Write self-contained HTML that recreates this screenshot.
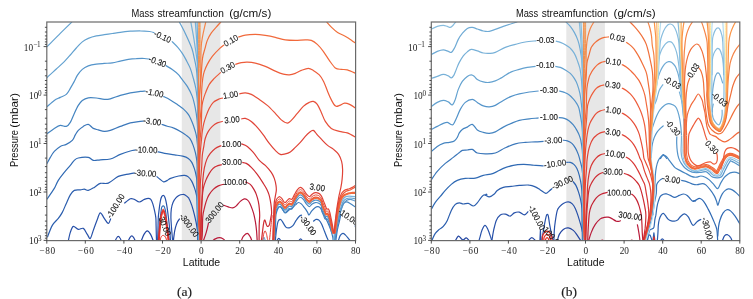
<!DOCTYPE html>
<html lang="en"><head><meta charset="utf-8"><title>Mass streamfunction</title>
<style>html,body{margin:0;padding:0;background:#fff}svg{display:block}</style>
</head><body>
<svg width="753" height="299" viewBox="0 0 753 299">
<defs><linearGradient id="gO" gradientUnits="userSpaceOnUse" x1="0" y1="21" x2="0" y2="241"><stop offset="0" stop-color="#f19b58"/><stop offset="0.22" stop-color="#ee8a4c"/><stop offset="0.45" stop-color="#e56a3e"/><stop offset="1" stop-color="#dc4a34"/></linearGradient></defs>
<rect width="753" height="299" fill="#fff"/>
<clipPath id="cpa"><rect x="46.8" y="22.0" width="308.8" height="218.6"/></clipPath>
<rect x="181.8" y="22.0" width="38.6" height="218.6" fill="#e7e7e7"/>
<g clip-path="url(#cpa)"><g fill="none" stroke-linecap="butt" stroke-linejoin="round" transform="translate(0.3 0.4)">
<path d="M173.1 240.5C173.2 239.4 173.6 235.9 173.9 233.7C174.2 231.4 174.7 228.9 175.2 227.0C175.7 225.1 176.2 223.4 176.9 222.0C177.6 220.6 179.0 218.9 179.4 218.3" stroke="#2346a2" stroke-width="1.2"/>
<path d="M115.0 240.5C115.2 240.0 115.8 238.3 116.3 237.6C116.8 236.8 117.5 236.0 118.0 236.0C118.5 236.0 119.2 236.8 119.7 237.6C120.2 238.3 120.8 240.0 121.0 240.5" stroke="#2346a2" stroke-width="1.2"/>
<path d="M128.0 240.5C128.3 240.0 129.0 238.1 129.6 237.2C130.2 236.4 130.9 235.5 131.5 235.5C132.1 235.5 132.8 236.4 133.4 237.2C134.0 238.1 134.7 240.0 135.0 240.5" stroke="#2346a2" stroke-width="1.2"/>
<path d="M141.0 240.5C141.4 239.4 142.7 235.7 143.7 234.0C144.7 232.3 145.9 230.5 147.0 230.5C148.1 230.5 149.3 232.3 150.3 234.0C151.3 235.7 152.6 239.4 153.0 240.5" stroke="#2346a2" stroke-width="1.2"/>
<path d="M68.0 240.5C68.3 239.1 69.2 234.4 70.0 232.0C70.8 229.6 71.7 226.5 73.0 226.0C74.3 225.5 76.3 228.7 78.0 229.0C79.7 229.3 81.5 227.2 83.0 228.0C84.5 228.8 85.8 232.3 87.0 234.0C88.2 235.7 89.0 238.7 90.0 238.0C91.0 237.3 91.8 233.2 93.0 230.0C94.2 226.8 95.8 221.9 97.0 219.0C98.2 216.1 98.8 212.6 100.0 212.4C101.2 212.2 102.7 216.2 104.0 218.0C105.3 219.8 106.9 223.0 108.0 223.0C109.1 223.0 110.1 218.8 110.5 218.0" stroke="#2751a9" stroke-width="1.2"/>
<path d="M124.0 203.0C125.0 202.2 128.3 199.1 130.0 198.4C131.7 197.7 132.5 198.5 134.0 199.0C135.5 199.5 137.3 201.6 139.0 201.6C140.7 201.6 142.5 199.6 144.0 199.0C145.5 198.4 146.9 197.9 148.0 197.9C149.1 197.9 149.7 198.0 150.5 199.0C151.3 200.0 152.0 201.8 152.6 203.7C153.2 205.6 153.8 208.2 154.3 210.4C154.8 212.6 155.2 214.5 155.5 217.0C155.8 219.5 155.7 221.5 155.8 225.4C155.9 229.3 156.1 238.0 156.2 240.5" stroke="#2751a9" stroke-width="1.2"/>
<path d="M157.3 240.5C157.4 238.4 157.6 231.9 157.7 228.0C157.8 224.1 157.8 220.1 158.0 216.9C158.2 213.7 158.6 211.4 158.9 208.7C159.2 205.9 159.7 202.5 160.1 200.4C160.5 198.3 160.9 197.1 161.4 196.2C161.9 195.3 162.4 194.9 162.9 194.9C163.4 194.9 163.9 195.3 164.3 196.2C164.8 197.1 165.2 198.6 165.6 200.4C166.0 202.2 166.4 204.2 166.8 207.0C167.2 209.8 167.7 213.4 168.1 216.9C168.5 220.4 169.0 224.1 169.3 228.0C169.7 231.9 170.0 238.4 170.2 240.5" stroke="#2751a9" stroke-width="1.2"/>
<path d="M172.3 240.5C172.2 238.7 171.7 233.5 171.4 229.6C171.1 225.7 170.7 220.5 170.6 217.0C170.5 213.5 170.7 211.2 171.0 208.7C171.3 206.2 171.9 203.9 172.7 202.0C173.5 200.1 174.5 198.6 175.6 197.4C176.7 196.2 177.9 195.5 179.0 194.9C180.1 194.3 181.3 194.2 182.3 194.1C183.3 194.0 183.8 193.9 184.8 194.5C185.8 195.1 187.4 196.1 188.5 197.8C189.6 199.6 190.6 202.3 191.5 205.0C192.4 207.7 193.3 211.2 194.0 214.0C194.7 216.8 195.2 219.2 195.8 222.0C196.4 224.8 196.8 227.9 197.3 231.0C197.8 234.1 198.5 238.9 198.7 240.5" stroke="#2751a9" stroke-width="1.2"/>
<path d="M276.4 240.5C276.8 240.1 277.8 238.0 278.5 238.0C279.2 238.0 280.2 240.1 280.6 240.5" stroke="#2751a9" stroke-width="1.2"/>
<path d="M298.2 240.5C298.6 240.2 299.6 238.5 300.3 238.5C301.0 238.5 302.0 240.2 302.4 240.5" stroke="#2751a9" stroke-width="1.2"/>
<path d="M47.0 237.0C47.8 235.0 50.2 228.2 52.0 225.0C53.8 221.8 56.3 220.2 58.0 218.0C59.7 215.8 60.7 214.5 62.0 212.0C63.3 209.5 64.7 205.9 66.0 203.0C67.3 200.1 68.7 196.7 70.0 194.5C71.3 192.3 72.3 190.8 74.0 190.0C75.7 189.2 78.3 189.7 80.0 189.5C81.7 189.3 82.7 188.6 84.0 188.7C85.3 188.8 86.3 190.3 88.0 190.0C89.7 189.7 92.0 188.2 94.0 187.0C96.0 185.8 97.7 183.7 100.0 183.0C102.3 182.3 105.0 183.9 108.0 182.7C111.0 181.5 115.0 177.4 118.0 176.0C121.0 174.6 123.3 174.6 126.0 174.0C128.7 173.4 132.9 172.7 134.3 172.4" stroke="#2b5eae" stroke-width="1.2"/>
<path d="M156.3 176.0C156.9 176.5 158.8 178.1 160.0 179.0C161.2 179.9 162.1 181.2 163.3 181.4C164.5 181.6 165.8 180.6 167.0 180.0C168.2 179.4 168.4 178.7 170.3 178.0C172.2 177.3 176.1 176.1 178.4 175.6C180.8 175.1 182.8 174.8 184.4 175.0C186.0 175.2 186.8 175.5 188.0 176.5C189.2 177.5 190.5 179.2 191.5 181.0C192.5 182.8 193.2 184.8 194.0 187.0C194.8 189.2 195.5 191.8 196.0 194.0C196.5 196.2 196.8 196.0 197.0 200.0C197.2 204.0 197.0 211.2 197.1 218.0C197.2 224.8 197.3 236.8 197.4 240.5" stroke="#2b5eae" stroke-width="1.2"/>
<path d="M275.0 240.5C275.2 238.4 275.9 231.2 276.4 228.0C276.9 224.8 277.2 222.5 277.8 221.0C278.4 219.5 279.3 219.0 280.0 219.0C280.7 219.0 281.1 219.7 282.0 221.0C282.9 222.3 284.4 225.6 285.6 226.7C286.8 227.8 287.8 227.6 289.0 227.4C290.2 227.2 291.4 226.6 292.6 225.3C293.8 224.0 294.8 221.3 296.0 219.7C297.2 218.0 298.7 216.2 299.6 215.4C300.6 214.6 301.4 214.8 301.7 214.7" stroke="#2b5eae" stroke-width="1.2"/>
<path d="M313.0 221.0C313.5 220.7 314.9 219.2 315.8 219.0C316.7 218.8 317.7 218.9 318.6 219.7C319.5 220.5 320.5 222.0 321.4 223.9C322.3 225.8 323.3 228.6 324.2 230.9C325.1 233.2 326.3 236.3 327.0 237.9C327.7 239.5 328.0 240.1 328.2 240.5" stroke="#2b5eae" stroke-width="1.2"/>
<path d="M273.0 240.5C273.1 239.6 273.3 237.6 273.6 235.0C273.9 232.4 274.4 228.3 274.6 225.0C274.8 221.7 274.9 216.7 275.0 215.0" stroke="#2b5eae" stroke-width="1.2"/>
<path d="M338.0 240.5C338.3 239.6 339.2 236.2 340.0 235.0C340.8 233.8 341.8 233.1 342.6 233.0C343.4 232.9 344.1 233.7 345.0 234.5C345.9 235.3 347.2 237.0 348.0 238.0C348.8 239.0 349.7 240.1 350.0 240.5" stroke="#2b5eae" stroke-width="1.2"/>
<path d="M354.8 225.0L355.5 228.0" stroke="#2b5eae" stroke-width="1.2"/>
<path d="M46.5 199.0C47.1 198.2 48.8 195.8 50.0 194.0C51.2 192.2 52.7 190.3 54.0 188.0C55.3 185.7 56.3 182.7 58.0 180.0C59.7 177.3 62.0 174.5 64.0 172.0C66.0 169.5 68.3 167.0 70.0 165.0C71.7 163.0 72.7 161.2 74.0 160.0C75.3 158.8 75.7 158.1 78.0 157.6C80.3 157.1 85.5 156.6 88.0 157.0C90.5 157.4 91.0 159.6 93.0 160.0C95.0 160.4 97.2 159.6 100.0 159.4C102.8 159.2 106.7 159.5 110.0 158.6C113.3 157.7 116.7 155.3 120.0 154.0C123.3 152.7 127.5 151.3 130.0 150.6C132.6 149.9 134.4 149.8 135.3 149.6" stroke="#306ab4" stroke-width="1.2"/>
<path d="M157.3 151.4C158.5 151.7 161.5 152.5 164.3 153.0C167.1 153.5 171.3 153.9 174.3 154.4C177.3 154.9 180.1 155.2 182.4 155.8C184.7 156.4 186.5 157.0 188.0 158.0C189.5 159.0 190.5 160.3 191.5 162.0C192.5 163.7 193.2 165.7 194.0 168.0C194.8 170.3 195.5 173.3 196.0 176.0C196.5 178.7 196.8 180.3 197.0 184.0C197.2 187.7 197.4 192.7 197.5 198.0C197.6 203.3 197.4 208.9 197.4 216.0C197.4 223.1 197.6 236.4 197.7 240.5" stroke="#306ab4" stroke-width="1.2"/>
<path d="M158.2 240.5C158.4 238.1 158.8 230.6 159.2 226.0C159.6 221.4 160.1 216.2 160.5 213.0C160.9 209.8 161.0 208.3 161.4 207.0C161.8 205.7 162.4 205.4 162.9 205.4C163.4 205.4 163.9 205.7 164.3 207.0C164.8 208.3 165.2 210.2 165.6 213.0C166.0 215.8 166.2 219.4 166.8 224.0C167.4 228.6 168.6 237.8 169.0 240.5" stroke="#306ab4" stroke-width="1.2"/>
<path d="M46.5 163.5C47.1 162.4 48.8 159.1 50.0 157.0C51.2 154.9 52.3 152.8 54.0 151.0C55.7 149.2 58.0 147.2 60.0 146.0C62.0 144.8 64.0 145.0 66.0 144.0C68.0 143.0 70.5 141.6 72.0 140.0C73.5 138.4 74.0 136.2 75.0 134.5C76.0 132.8 76.7 131.4 78.0 130.0C79.3 128.6 81.3 127.0 83.0 126.0C84.7 125.0 86.3 123.7 88.0 124.0C89.7 124.3 91.3 127.1 93.0 128.0C94.7 128.9 96.2 129.0 98.0 129.5C99.8 130.0 102.0 130.9 104.0 131.0C106.0 131.1 107.3 130.8 110.0 130.0C112.7 129.2 116.7 127.2 120.0 126.0C123.3 124.8 126.7 123.3 130.0 122.5C133.3 121.7 137.8 121.3 140.0 121.0C142.2 120.7 142.8 120.8 143.3 120.7" stroke="#3b77ba" stroke-width="1.2"/>
<path d="M161.3 123.9C162.2 124.2 165.1 125.2 167.0 125.8C168.9 126.4 170.7 126.5 173.0 127.5C175.3 128.4 178.8 130.2 181.0 131.5C183.2 132.8 184.6 133.9 186.0 135.0C187.4 136.1 188.4 136.5 189.5 138.0C190.6 139.5 191.6 141.7 192.5 144.0C193.4 146.3 194.3 149.3 195.0 152.0C195.7 154.7 196.1 157.3 196.5 160.0C196.9 162.7 197.1 163.7 197.2 168.0C197.3 172.3 196.8 179.3 196.8 186.0C196.8 192.7 196.9 200.7 197.0 208.0C197.2 215.3 197.5 224.6 197.6 230.0C197.8 235.4 197.9 238.8 197.9 240.5" stroke="#3b77ba" stroke-width="1.2"/>
<path d="M275.0 235.0C275.1 232.8 275.2 225.5 275.3 222.0C275.4 218.5 275.3 216.4 275.7 214.0C276.1 211.6 277.1 209.0 277.8 207.7C278.5 206.4 279.3 206.2 280.0 206.3C280.7 206.4 281.2 207.4 282.0 208.4C282.8 209.4 283.8 212.4 284.9 212.6C286.0 212.8 287.2 210.6 288.4 209.8C289.6 209.0 290.7 208.6 291.9 207.7C293.1 206.8 294.3 205.1 295.4 204.2C296.4 203.3 297.3 202.2 298.2 202.1C299.1 202.0 299.9 202.6 301.0 203.5C302.1 204.4 303.4 206.3 304.5 207.7C305.6 209.1 306.6 210.9 307.3 212.0C308.0 213.1 308.0 214.8 308.7 214.5C309.4 214.2 310.4 211.8 311.5 210.5C312.6 209.2 313.9 207.7 315.0 207.0C316.1 206.3 316.9 206.1 317.9 206.3C318.8 206.5 319.8 207.1 320.7 208.4C321.6 209.7 322.4 211.9 323.5 214.0C324.6 216.1 325.8 218.4 327.0 221.0C328.2 223.6 329.6 226.9 330.5 229.5C331.4 232.1 332.0 234.7 332.4 236.5C332.8 238.3 332.8 239.8 332.9 240.5" stroke="#3b77ba" stroke-width="1.2"/>
<path d="M335.5 240.5C335.8 238.8 336.4 233.2 337.0 230.0C337.6 226.8 338.4 224.0 339.0 221.4C339.6 218.8 340.2 215.7 340.5 214.5" stroke="#3b77ba" stroke-width="1.2"/>
<path d="M46.5 133.5C47.8 132.6 51.8 129.4 54.0 128.0C56.2 126.6 58.0 125.3 60.0 125.0C62.0 124.7 64.3 126.5 66.0 126.0C67.7 125.5 68.7 124.2 70.0 122.0C71.3 119.8 72.7 115.8 74.0 113.0C75.3 110.2 76.7 107.2 78.0 105.0C79.3 102.8 80.3 101.3 82.0 100.0C83.7 98.7 85.7 97.8 88.0 97.4C90.3 97.0 93.3 97.3 96.0 97.6C98.7 97.9 101.7 98.9 104.0 99.0C106.3 99.1 107.3 99.1 110.0 98.4C112.7 97.7 116.7 96.0 120.0 95.0C123.3 94.0 126.7 93.1 130.0 92.4C133.3 91.7 137.4 91.3 140.0 91.0C142.6 90.7 144.4 90.7 145.3 90.6" stroke="#4585c1" stroke-width="1.2"/>
<path d="M163.0 96.0C164.2 96.6 167.4 98.0 170.0 99.5C172.6 101.0 176.1 103.5 178.3 105.0C180.5 106.5 181.4 107.0 183.0 108.5C184.6 110.0 186.5 111.8 188.0 114.0C189.5 116.2 190.8 119.2 192.0 122.0C193.2 124.8 194.2 128.3 195.0 131.0C195.8 133.7 196.1 134.8 196.5 138.0C196.9 141.2 197.3 145.0 197.4 150.0C197.5 155.0 197.1 161.3 197.0 168.0C197.0 174.7 196.8 182.7 196.9 190.0C196.9 197.3 197.1 204.7 197.3 212.0C197.5 219.3 197.8 229.2 198.0 234.0C198.1 238.8 198.1 239.4 198.2 240.5" stroke="#4585c1" stroke-width="1.2"/>
<path d="M274.0 240.5C274.1 238.4 274.2 232.3 274.4 228.0C274.6 223.7 274.8 217.8 275.1 214.8C275.3 211.8 275.5 211.1 275.9 209.9C276.3 208.8 276.9 208.4 277.3 207.9C277.6 207.4 277.6 207.2 278.0 206.9C278.4 206.6 278.9 206.0 279.5 206.2C280.1 206.4 280.7 206.9 281.5 207.9C282.3 208.9 283.6 211.9 284.5 212.2C285.4 212.5 286.2 210.6 287.0 209.9C287.8 209.2 288.2 208.4 289.0 208.2C289.8 208.0 290.8 209.3 291.6 208.7C292.4 208.1 293.1 206.0 294.0 204.4C294.9 202.8 296.0 200.7 297.0 199.4C298.0 198.2 299.0 197.0 300.0 196.9C301.0 196.8 302.0 197.8 303.0 198.9C304.0 200.0 305.0 202.2 306.0 203.4C307.0 204.6 308.1 206.1 309.0 206.2C309.9 206.3 310.5 204.6 311.5 203.9C312.5 203.2 313.8 202.4 315.0 202.2C316.2 202.0 317.5 202.4 318.5 202.9C319.5 203.4 320.5 204.2 321.0 205.4C321.5 206.6 320.8 208.3 321.2 209.9C321.6 211.5 322.6 213.5 323.2 214.9C323.8 216.3 324.2 218.0 324.7 218.6C325.2 219.2 325.7 218.3 326.2 218.4C326.7 218.5 327.2 218.3 327.7 219.4C328.3 220.5 328.9 223.0 329.4 224.9C330.0 226.9 330.6 229.6 331.0 231.0C331.4 232.3 331.8 232.7 331.9 233.0" stroke="#4585c1" stroke-width="1.1"/>
<path d="M334.6 240.5C334.9 238.8 335.7 233.2 336.3 230.0C336.9 226.8 337.3 224.2 338.0 221.0C338.7 217.8 339.8 213.3 340.5 210.5C341.2 207.7 341.8 205.7 342.4 204.3C343.0 202.9 343.5 202.7 344.2 202.2C344.9 201.7 345.5 201.4 346.3 201.5C347.1 201.6 348.0 202.0 349.0 202.6C350.0 203.2 351.3 204.1 352.4 204.8C353.5 205.5 355.0 206.6 355.5 207.0" stroke="#4585c1" stroke-width="1.2"/>
<path d="M46.5 106.5C47.8 105.4 51.8 101.6 54.0 100.0C56.2 98.4 58.0 98.0 60.0 97.0C62.0 96.0 64.3 95.5 66.0 94.0C67.7 92.5 68.7 90.2 70.0 88.0C71.3 85.8 72.8 83.2 74.0 81.0C75.2 78.8 75.7 77.0 77.0 75.0C78.3 73.0 80.2 70.6 82.0 69.0C83.8 67.4 85.7 66.4 88.0 65.5C90.3 64.6 93.3 64.1 96.0 63.7C98.7 63.3 101.3 63.2 104.0 63.0C106.7 62.8 109.3 62.9 112.0 62.5C114.7 62.1 117.3 61.3 120.0 60.7C122.7 60.1 125.3 59.4 128.0 59.0C130.7 58.6 133.3 58.4 136.0 58.3C138.7 58.1 141.8 58.0 144.0 58.1C146.2 58.2 148.6 58.7 149.5 58.8" stroke="#5494ca" stroke-width="1.2"/>
<path d="M165.5 65.2C166.6 65.9 170.2 67.8 172.3 69.3C174.5 70.8 177.0 73.0 178.4 74.5C179.8 76.0 179.6 76.1 181.0 78.0C182.4 79.9 185.2 83.0 187.0 86.0C188.8 89.0 190.7 92.4 192.0 96.0C193.3 99.6 194.2 103.8 195.0 107.8C195.8 111.8 196.4 115.5 196.8 120.0C197.2 124.5 197.4 129.5 197.5 135.0C197.6 140.5 197.3 146.3 197.2 153.0C197.2 159.7 197.1 167.7 197.1 175.0C197.1 182.3 197.0 189.7 197.1 197.0C197.2 204.3 197.5 211.8 197.8 219.0C198.0 226.2 198.3 236.9 198.4 240.5" stroke="#5494ca" stroke-width="1.2"/>
<path d="M262.4 240.5C262.6 239.9 263.3 236.8 263.7 236.8C264.1 236.8 264.8 239.9 265.0 240.5" stroke="#5494ca" stroke-width="1.0"/>
<path d="M273.7 240.5C273.7 238.4 273.9 232.3 274.1 228.0C274.2 223.7 274.5 218.0 274.8 214.8C275.0 211.6 275.2 210.2 275.6 208.7C275.9 207.2 276.6 206.5 277.0 205.8C277.4 205.1 277.6 204.7 278.0 204.4C278.4 204.1 278.9 203.5 279.5 203.7C280.1 203.9 280.7 204.4 281.5 205.4C282.3 206.4 283.6 209.4 284.5 209.7C285.4 210.0 286.2 208.1 287.0 207.4C287.8 206.7 288.2 205.9 289.0 205.7C289.8 205.5 290.8 206.8 291.6 206.2C292.4 205.6 293.1 203.5 294.0 201.9C294.9 200.3 296.0 198.2 297.0 196.9C298.0 195.7 299.0 194.5 300.0 194.4C301.0 194.3 302.0 195.3 303.0 196.4C304.0 197.5 305.0 199.7 306.0 200.9C307.0 202.1 308.1 203.6 309.0 203.7C309.9 203.8 310.5 202.1 311.5 201.4C312.5 200.7 313.8 199.9 315.0 199.7C316.2 199.5 317.5 199.9 318.5 200.4C319.5 200.9 320.5 201.7 321.0 202.9C321.5 204.1 321.2 205.8 321.7 207.4C322.1 209.0 323.1 211.0 323.7 212.4C324.3 213.8 324.7 215.5 325.2 216.1C325.7 216.7 326.2 215.7 326.7 215.9C327.2 216.1 327.6 216.2 328.2 217.6C328.7 218.9 329.3 221.6 329.9 223.7C330.4 225.8 331.1 228.8 331.5 230.3C331.9 231.9 332.2 232.6 332.4 233.0" stroke="#5494ca" stroke-width="1.3"/>
<path d="M334.0 240.5C334.2 239.1 335.0 234.9 335.5 232.0C336.0 229.1 336.6 225.9 337.2 223.0C337.8 220.1 338.4 217.1 339.0 214.8C339.6 212.5 340.2 211.0 341.0 209.0C341.8 207.0 342.6 204.5 343.5 203.0C344.4 201.5 345.4 200.5 346.5 199.8C347.6 199.1 348.9 199.0 350.0 199.0C351.1 199.0 352.1 199.5 353.0 199.8C353.9 200.1 355.1 200.8 355.5 201.0" stroke="#5494ca" stroke-width="1.2"/>
<path d="M46.5 46.5C47.4 45.6 50.1 42.9 52.0 41.0C53.9 39.1 56.0 37.0 58.0 35.0C60.0 33.0 61.7 31.2 64.0 29.0C66.3 26.8 70.4 22.8 71.7 21.5" stroke="#64a2d0" stroke-width="1.2"/>
<path d="M46.5 77.5C46.9 77.1 47.4 76.5 49.0 75.0C50.6 73.5 53.5 70.9 56.0 68.6C58.5 66.3 61.7 63.5 64.0 61.2C66.3 58.9 68.0 56.9 70.0 54.6C72.0 52.3 74.0 49.8 76.0 47.6C78.0 45.4 80.0 43.1 82.0 41.5C84.0 39.9 85.7 39.0 88.0 38.0C90.3 37.0 93.3 36.1 96.0 35.5C98.7 34.9 101.3 34.7 104.0 34.3C106.7 33.9 109.3 33.5 112.0 33.1C114.7 32.7 117.0 32.3 120.0 31.9C123.0 31.5 126.7 31.1 130.0 30.8C133.3 30.6 136.8 30.3 140.0 30.4C143.2 30.4 146.9 30.8 149.3 31.1C151.7 31.4 153.4 32.2 154.2 32.4" stroke="#64a2d0" stroke-width="1.2"/>
<path d="M171.5 40.9C172.5 41.9 175.8 45.0 177.5 47.0C179.2 49.0 180.7 51.0 182.0 53.0C183.3 55.0 184.2 56.5 185.5 59.0C186.8 61.5 188.8 64.9 190.0 68.0C191.2 71.1 192.1 74.5 193.0 77.8C193.9 81.1 194.9 84.6 195.5 88.0C196.1 91.4 196.5 94.7 196.8 98.0C197.1 101.3 197.2 103.3 197.3 108.0C197.4 112.7 197.3 119.3 197.3 126.0C197.3 132.7 197.3 140.7 197.3 148.0C197.3 155.3 197.3 162.7 197.3 170.0C197.3 177.3 197.2 184.7 197.3 192.0C197.3 199.3 197.6 205.9 197.8 214.0C198.1 222.1 198.5 236.1 198.7 240.5" stroke="#64a2d0" stroke-width="1.2"/>
<path d="M179.0 21.5C180.0 23.4 182.9 28.6 185.0 33.0C187.1 37.4 190.0 43.6 191.5 47.8C193.0 52.0 193.2 54.6 194.0 58.0C194.8 61.4 195.5 64.7 196.0 68.0C196.5 71.3 196.6 72.5 196.8 77.8C197.1 83.1 197.4 93.3 197.5 100.0C197.6 106.7 197.5 111.3 197.6 118.0C197.6 124.7 197.6 132.7 197.6 140.0C197.6 147.3 197.6 154.7 197.6 162.0C197.6 169.3 197.5 176.7 197.6 184.0C197.7 191.3 197.8 198.7 197.9 206.0C198.1 213.3 198.4 222.2 198.6 228.0C198.8 233.8 198.9 238.4 199.0 240.5" stroke="#64a2d0" stroke-width="1.2"/>
<path d="M333.4 240.5C333.6 239.1 334.3 235.1 334.8 232.0C335.3 228.9 336.0 224.9 336.6 222.0C337.2 219.1 337.9 217.3 338.6 214.8C339.3 212.3 339.9 209.3 340.6 207.0C341.3 204.7 342.1 202.4 343.0 201.0C343.9 199.6 344.8 198.9 346.0 198.3C347.2 197.7 348.4 197.6 350.0 197.6C351.6 197.6 354.6 198.3 355.5 198.5" stroke="#64a2d0" stroke-width="1.2"/>
<path d="M190.5 21.5C190.9 23.8 192.2 30.6 193.0 35.0C193.8 39.4 194.3 43.1 195.0 47.8C195.7 52.5 196.6 58.0 197.0 63.0C197.4 68.0 197.6 68.3 197.7 77.8C197.8 87.3 197.7 110.0 197.7 120.0C197.7 130.0 197.7 131.3 197.7 138.0C197.7 144.7 197.7 152.7 197.7 160.0C197.7 167.3 197.6 174.7 197.7 182.0C197.7 189.3 197.8 196.7 197.9 204.0C198.1 211.3 198.4 219.9 198.6 226.0C198.8 232.1 199.0 238.1 199.1 240.5" stroke="#78b1d8" stroke-width="1.2"/>
<path d="M195.0 21.5C195.3 25.9 196.4 38.0 196.8 47.8C197.2 57.5 197.6 71.6 197.7 80.0C197.8 88.4 197.7 91.3 197.7 98.0C197.7 104.7 197.7 112.7 197.7 120.0C197.7 127.3 197.7 134.7 197.7 142.0C197.7 149.3 197.7 156.7 197.7 164.0C197.7 171.3 197.6 178.7 197.7 186.0C197.7 193.3 197.9 200.7 198.1 208.0C198.2 215.3 198.6 224.6 198.7 230.0C198.9 235.4 199.0 238.8 199.1 240.5" stroke="#78b1d8" stroke-width="1.2"/>
<path d="M332.9 240.5C333.1 239.1 333.7 235.1 334.2 232.0C334.7 228.9 335.4 224.9 336.0 222.0C336.6 219.1 336.9 217.7 337.6 214.8C338.3 211.9 339.2 207.1 340.0 204.5C340.8 201.9 341.8 200.3 342.6 199.0C343.4 197.7 343.9 197.1 345.0 196.5C346.1 195.9 347.2 195.7 349.0 195.7C350.8 195.7 354.4 196.2 355.5 196.3" stroke="#78b1d8" stroke-width="1.2"/>
<path d="M196.8 21.5C197.0 27.9 197.5 50.6 197.7 60.0C197.8 69.4 197.7 71.3 197.7 78.0C197.7 84.7 197.7 92.7 197.7 100.0C197.7 107.3 197.7 114.7 197.7 122.0C197.7 129.3 197.7 136.7 197.7 144.0C197.7 151.3 197.7 158.7 197.7 166.0C197.7 173.3 197.6 180.7 197.7 188.0C197.8 195.3 198.0 202.7 198.2 210.0C198.4 217.3 198.7 226.9 198.8 232.0C199.0 237.1 199.1 239.1 199.1 240.5" stroke="#70abd5" stroke-width="1.2"/>
<path d="M205.5 21.5C205.0 23.8 203.3 30.6 202.5 35.0C201.7 39.4 201.2 40.3 200.8 47.8C200.4 55.3 200.5 71.6 200.2 80.0C199.9 88.4 199.3 91.3 199.0 98.0C198.7 104.7 198.6 112.7 198.5 120.0C198.4 127.3 198.3 134.7 198.2 142.0C198.2 149.3 198.2 156.7 198.1 164.0C198.1 171.3 198.0 178.7 198.1 186.0C198.1 193.3 198.3 200.7 198.5 208.0C198.6 215.3 199.0 224.6 199.1 230.0C199.3 235.4 199.4 238.8 199.5 240.5" stroke="#f58548" stroke-width="1.2"/>
<path d="M220.6 21.5C219.8 22.4 217.3 25.1 215.7 27.0C214.0 28.9 212.1 30.8 210.7 33.0C209.2 35.2 208.0 37.5 207.0 40.0C206.0 42.5 205.6 44.8 204.8 47.8C204.0 50.8 202.9 53.0 202.2 58.0C201.5 63.0 201.2 71.5 200.7 77.8C200.2 84.1 199.6 89.1 199.3 95.8C198.9 102.5 198.8 110.5 198.6 117.8C198.5 125.1 198.4 132.5 198.3 139.8C198.3 147.1 198.2 154.5 198.2 161.8C198.2 169.1 198.1 176.5 198.1 183.8C198.2 191.1 198.3 198.5 198.5 205.8C198.6 213.1 198.9 222.0 199.1 227.8C199.3 233.6 199.4 238.4 199.5 240.5" stroke="#f0703b" stroke-width="1.2"/>
<path d="M326.3 21.5C327.1 22.4 329.5 25.2 331.3 27.0C333.1 28.8 335.0 30.5 337.3 32.0C339.6 33.5 343.0 34.7 345.3 36.0C347.6 37.3 349.7 38.8 351.4 40.0C353.1 41.2 354.8 42.5 355.5 43.0" stroke="#f0703b" stroke-width="1.2"/>
<path d="M273.5 240.5C273.5 238.4 273.7 232.3 273.9 228.0C274.0 223.7 274.3 218.2 274.6 214.8C274.8 211.5 275.0 209.6 275.4 207.9C275.7 206.2 276.3 205.3 276.8 204.4C277.2 203.6 277.5 203.2 278.0 202.8C278.5 202.4 278.9 201.9 279.5 202.1C280.1 202.3 280.7 202.8 281.5 203.8C282.3 204.8 283.6 207.8 284.5 208.1C285.4 208.4 286.2 206.5 287.0 205.8C287.8 205.1 288.2 204.3 289.0 204.1C289.8 203.9 290.8 205.2 291.6 204.6C292.4 204.0 293.1 201.9 294.0 200.3C294.9 198.8 296.0 196.6 297.0 195.3C298.0 194.1 299.0 192.9 300.0 192.8C301.0 192.7 302.0 193.7 303.0 194.8C304.0 195.9 305.0 198.1 306.0 199.3C307.0 200.5 308.1 202.0 309.0 202.1C309.9 202.2 310.5 200.5 311.5 199.8C312.5 199.1 313.8 198.3 315.0 198.1C316.2 197.9 317.5 198.3 318.5 198.8C319.5 199.3 320.4 200.1 321.0 201.3C321.6 202.5 321.5 204.2 322.0 205.8C322.4 207.4 323.4 209.4 324.0 210.8C324.5 212.2 325.0 213.9 325.5 214.5C326.0 215.1 326.5 214.0 327.0 214.3C327.5 214.6 327.9 214.9 328.5 216.3C329.0 217.8 329.6 220.6 330.2 222.9C330.7 225.2 331.3 228.3 331.8 229.9C332.2 231.6 332.5 232.5 332.7 233.0" stroke="#f0703b" stroke-width="1.1"/>
<path d="M223.9 44.5C223.2 45.1 221.5 46.1 219.5 48.0C217.5 49.9 214.1 53.3 212.0 56.0C209.9 58.7 208.3 61.5 207.0 64.0C205.7 66.5 204.8 68.7 204.0 71.0C203.2 73.3 202.9 75.0 202.5 77.8C202.1 80.6 201.8 83.0 201.5 88.0C201.2 93.0 201.2 101.5 200.8 107.8C200.4 114.1 199.7 119.1 199.3 125.8C199.0 132.5 198.8 140.5 198.7 147.8C198.5 155.1 198.5 162.5 198.4 169.8C198.3 177.1 198.2 184.5 198.3 191.8C198.3 199.1 198.6 206.5 198.8 213.8C199.0 221.1 199.3 231.4 199.4 235.8C199.6 240.2 199.5 239.7 199.6 240.5" stroke="#f1693b" stroke-width="1.2"/>
<path d="M238.0 36.7C239.2 36.4 242.2 35.2 245.0 34.7C247.8 34.2 251.7 34.0 255.0 34.0C258.3 34.0 261.7 34.5 265.0 35.0C268.3 35.5 271.7 36.2 275.0 37.0C278.3 37.8 281.7 39.0 285.0 39.5C288.3 40.0 291.7 40.0 295.0 40.0C298.3 40.0 302.3 39.5 305.0 39.5C307.7 39.5 309.0 39.2 311.0 40.0C313.0 40.8 315.0 42.2 317.0 44.0C319.0 45.8 321.0 48.3 323.0 51.0C325.0 53.7 327.0 57.2 329.0 60.0C331.0 62.8 333.0 66.0 335.0 67.5C337.0 69.0 339.0 68.7 341.0 69.0C343.0 69.3 344.6 68.8 347.0 69.5C349.4 70.2 354.1 72.4 355.5 73.0" stroke="#f1693b" stroke-width="1.2"/>
<path d="M273.4 240.5C273.4 238.4 273.6 232.3 273.8 228.0C273.9 223.7 274.2 218.2 274.5 214.8C274.7 211.4 274.9 209.4 275.3 207.6C275.6 205.7 276.2 204.7 276.7 203.8C277.1 202.9 277.5 202.5 278.0 202.1C278.5 201.7 278.9 201.2 279.5 201.4C280.1 201.6 280.7 202.1 281.5 203.1C282.3 204.1 283.6 207.1 284.5 207.4C285.4 207.7 286.2 205.8 287.0 205.1C287.8 204.4 288.2 203.6 289.0 203.4C289.8 203.2 290.8 204.5 291.6 203.9C292.4 203.3 293.1 201.2 294.0 199.6C294.9 198.0 296.0 195.8 297.0 194.6C298.0 193.3 299.0 192.2 300.0 192.1C301.0 192.0 302.0 193.0 303.0 194.1C304.0 195.2 305.0 197.4 306.0 198.6C307.0 199.8 308.1 201.3 309.0 201.4C309.9 201.5 310.5 199.8 311.5 199.1C312.5 198.4 313.8 197.6 315.0 197.4C316.2 197.2 317.5 197.6 318.5 198.1C319.5 198.6 320.4 199.4 321.0 200.6C321.6 201.8 321.6 203.5 322.1 205.1C322.6 206.7 323.5 208.7 324.1 210.1C324.7 211.5 325.1 213.2 325.6 213.8C326.1 214.4 326.6 213.3 327.1 213.6C327.6 213.9 328.0 214.3 328.6 215.8C329.1 217.3 329.7 220.2 330.3 222.6C330.8 224.9 331.5 228.0 331.9 229.8C332.3 231.5 332.6 232.5 332.8 233.0" stroke="#f1693b" stroke-width="1.2"/>
<path d="M334.4 233.0C334.6 231.5 335.3 227.0 335.7 224.0C336.1 221.0 336.4 218.0 337.0 214.8C337.6 211.6 338.3 207.7 339.0 205.0C339.7 202.3 340.2 200.2 341.0 198.5C341.8 196.8 342.8 195.7 344.0 194.8C345.2 193.9 346.7 193.4 348.0 193.0C349.3 192.6 350.8 192.6 352.0 192.5C353.2 192.4 354.9 192.5 355.5 192.5" stroke="#f1693b" stroke-width="2.1"/>
<path d="M198.4 21.5C198.4 26.2 198.3 42.2 198.3 50.0C198.3 57.8 198.2 61.3 198.1 68.0C198.1 74.7 198.1 82.7 198.1 90.0C198.1 97.3 198.1 104.7 198.0 112.0C198.0 119.3 198.0 126.7 198.0 134.0C198.0 141.3 198.0 148.7 198.0 156.0C198.0 163.3 198.0 170.7 198.0 178.0C198.0 185.3 198.0 192.7 198.2 200.0C198.3 207.3 198.6 215.2 198.9 222.0C199.1 228.8 199.3 237.4 199.4 240.5" stroke="url(#gO)" stroke-width="1.0"/>
<path d="M199.1 21.5C199.1 26.2 199.1 42.2 199.0 50.0C198.9 57.8 198.6 61.3 198.5 68.0C198.3 74.7 198.3 82.7 198.2 90.0C198.2 97.3 198.2 104.7 198.1 112.0C198.1 119.3 198.1 126.7 198.1 134.0C198.1 141.3 198.1 148.7 198.1 156.0C198.1 163.3 198.0 170.7 198.0 178.0C198.1 185.3 198.1 192.7 198.2 200.0C198.3 207.3 198.7 215.2 198.9 222.0C199.1 228.8 199.3 237.4 199.4 240.5" stroke="url(#gO)" stroke-width="1.0"/>
<path d="M199.8 21.5C199.8 26.2 199.9 42.2 199.7 50.0C199.5 57.8 199.0 61.3 198.8 68.0C198.6 74.7 198.5 82.7 198.4 90.0C198.3 97.3 198.3 104.7 198.2 112.0C198.2 119.3 198.1 126.7 198.1 134.0C198.1 141.3 198.1 148.7 198.1 156.0C198.1 163.3 198.1 170.7 198.1 178.0C198.1 185.3 198.1 192.7 198.2 200.0C198.4 207.3 198.7 215.2 198.9 222.0C199.1 228.8 199.4 237.4 199.5 240.5" stroke="url(#gO)" stroke-width="1.0"/>
<path d="M220.5 72.0C219.4 73.0 215.9 76.0 214.0 78.0C212.1 80.0 210.5 81.5 209.0 84.0C207.5 86.5 206.1 90.2 205.0 93.0C203.9 95.8 203.1 98.5 202.5 101.0C201.9 103.5 201.8 103.8 201.5 107.8C201.2 111.8 201.3 119.1 201.0 125.0C200.7 130.9 199.9 136.3 199.5 143.0C199.1 149.7 199.0 157.7 198.8 165.0C198.6 172.3 198.5 179.7 198.5 187.0C198.5 194.3 198.6 201.7 198.8 209.0C198.9 216.3 199.3 225.8 199.4 231.0C199.6 236.2 199.6 238.9 199.7 240.5" stroke="#ed5c3a" stroke-width="1.2"/>
<path d="M235.0 64.0C236.0 63.7 239.0 62.7 241.0 62.3C243.0 61.9 244.7 61.6 247.0 61.7C249.3 61.8 252.0 62.0 255.0 62.7C258.0 63.4 261.7 64.7 265.0 66.0C268.3 67.3 272.0 69.4 275.0 70.7C278.0 72.0 280.7 73.1 283.0 73.7C285.3 74.3 287.0 74.6 289.0 74.5C291.0 74.4 293.0 73.8 295.0 73.0C297.0 72.2 298.8 70.8 301.0 70.0C303.2 69.2 306.0 68.0 308.0 68.0C310.0 68.0 311.2 68.9 313.0 70.0C314.8 71.1 317.3 72.7 319.0 74.5C320.7 76.3 321.9 78.2 323.3 81.0C324.7 83.8 326.0 87.8 327.3 91.0C328.6 94.2 330.0 97.5 331.3 100.0C332.6 102.5 334.0 104.9 335.3 105.7C336.6 106.5 337.8 105.5 339.3 105.0C340.8 104.5 342.6 102.9 344.3 102.7C346.0 102.5 347.4 103.1 349.3 104.0C351.2 104.9 354.5 107.3 355.5 108.0" stroke="#ed5c3a" stroke-width="1.2"/>
<path d="M262.3 240.5C262.5 239.4 262.9 235.7 263.3 234.0C263.7 232.3 264.3 230.5 264.8 230.5C265.3 230.5 265.9 232.6 266.3 234.0C266.7 235.4 266.9 237.9 267.3 239.0C267.7 240.1 268.3 240.2 268.5 240.5" stroke="#e8392f" stroke-width="1.0"/>
<path d="M269.2 240.5C269.3 239.1 269.7 235.1 270.0 232.0C270.3 228.9 270.7 224.8 271.0 222.0C271.3 219.2 271.8 216.2 272.0 215.0" stroke="#e8392f" stroke-width="1.0"/>
<path d="M273.3 240.5C273.3 238.4 273.5 232.3 273.7 228.0C273.9 223.7 274.1 218.3 274.4 214.8C274.6 211.3 274.8 209.1 275.2 207.2C275.5 205.3 276.1 204.2 276.6 203.2C277.0 202.3 277.5 201.8 278.0 201.4C278.5 201.0 278.9 200.5 279.5 200.7C280.1 200.9 280.7 201.4 281.5 202.4C282.3 203.4 283.6 206.4 284.5 206.7C285.4 207.0 286.2 205.1 287.0 204.4C287.8 203.7 288.2 202.9 289.0 202.7C289.8 202.5 290.8 203.8 291.6 203.2C292.4 202.6 293.1 200.5 294.0 198.9C294.9 197.3 296.0 195.2 297.0 193.9C298.0 192.7 299.0 191.5 300.0 191.4C301.0 191.3 302.0 192.3 303.0 193.4C304.0 194.5 305.0 196.7 306.0 197.9C307.0 199.1 308.1 200.6 309.0 200.7C309.9 200.8 310.5 199.1 311.5 198.4C312.5 197.7 313.8 196.9 315.0 196.7C316.2 196.5 317.5 196.9 318.5 197.4C319.5 197.9 320.4 198.7 321.0 199.9C321.6 201.1 321.7 202.8 322.2 204.4C322.7 206.0 323.6 208.0 324.2 209.4C324.8 210.8 325.2 212.5 325.7 213.1C326.2 213.7 326.7 212.5 327.2 212.9C327.7 213.3 328.2 213.8 328.7 215.3C329.2 216.9 329.9 219.8 330.4 222.2C331.0 224.6 331.6 227.8 332.0 229.6C332.4 231.4 332.8 232.4 332.9 233.0" stroke="#ed5c3a" stroke-width="1.2"/>
<path d="M334.1 233.0C334.3 231.5 334.9 227.0 335.3 224.0C335.7 221.0 336.2 218.0 336.6 214.8C337.1 211.6 337.4 207.8 338.0 205.0C338.6 202.2 339.2 199.9 340.0 198.0C340.8 196.1 342.0 194.5 343.0 193.3C344.0 192.1 344.8 191.4 346.0 190.8C347.2 190.2 348.4 190.3 350.0 189.6C351.6 188.9 354.6 187.0 355.5 186.5" stroke="#ed5c3a" stroke-width="1.2"/>
<path d="M222.5 97.5C221.8 97.8 219.6 98.2 218.0 99.0C216.4 99.8 214.5 100.5 213.0 102.0C211.5 103.5 210.2 105.6 209.0 107.8C207.8 110.0 206.9 112.5 206.0 115.0C205.1 117.5 204.2 120.3 203.5 123.0C202.8 125.7 202.4 128.5 202.0 131.0C201.6 133.5 201.7 133.8 201.3 138.0C200.9 142.2 200.1 149.3 199.7 156.0C199.4 162.7 199.2 170.7 199.0 178.0C198.9 185.3 198.8 192.7 198.9 200.0C198.9 207.3 199.2 215.2 199.4 222.0C199.6 228.8 199.8 237.4 199.8 240.5" stroke="#e74f39" stroke-width="1.2"/>
<path d="M239.0 93.4C240.0 93.2 243.0 92.3 245.0 92.4C247.0 92.5 248.7 92.9 251.0 94.0C253.3 95.1 256.3 97.2 259.0 99.0C261.7 100.8 264.3 102.7 267.0 105.0C269.7 107.3 272.7 110.6 275.0 113.0C277.3 115.4 279.0 117.9 281.0 119.5C283.0 121.1 285.3 122.6 287.0 122.7C288.7 122.8 289.3 121.6 291.0 120.0C292.7 118.4 295.0 115.3 297.0 113.0C299.0 110.7 301.0 107.8 303.0 106.0C305.0 104.2 307.3 102.8 309.0 102.0C310.7 101.2 311.7 100.7 313.0 101.0C314.3 101.3 315.7 102.2 317.0 104.0C318.3 105.8 319.7 109.2 321.0 112.0C322.3 114.8 323.3 118.3 325.0 121.0C326.7 123.7 328.7 126.3 331.0 128.0C333.3 129.7 336.3 130.2 339.0 131.0C341.7 131.8 344.2 131.5 347.0 132.5C349.8 133.5 354.1 136.2 355.5 137.0" stroke="#e74f39" stroke-width="1.2"/>
<path d="M273.0 240.5C273.1 238.4 273.2 232.3 273.4 228.0C273.6 223.7 273.8 218.4 274.1 214.8C274.3 211.2 274.5 208.4 274.9 206.2C275.3 203.9 275.8 202.6 276.3 201.5C276.8 200.3 277.5 199.8 278.0 199.3C278.5 198.8 278.9 198.4 279.5 198.6C280.1 198.8 280.7 199.3 281.5 200.3C282.3 201.3 283.6 204.3 284.5 204.6C285.4 204.9 286.2 203.0 287.0 202.3C287.8 201.6 288.2 200.8 289.0 200.6C289.8 200.4 290.8 201.7 291.6 201.1C292.4 200.5 293.1 198.4 294.0 196.8C294.9 195.2 296.0 193.1 297.0 191.8C298.0 190.6 299.0 189.4 300.0 189.3C301.0 189.2 302.0 190.2 303.0 191.3C304.0 192.4 305.0 194.6 306.0 195.8C307.0 197.0 308.1 198.5 309.0 198.6C309.9 198.7 310.5 197.0 311.5 196.3C312.5 195.6 313.8 194.8 315.0 194.6C316.2 194.4 317.5 194.8 318.5 195.3C319.5 195.8 320.3 196.6 321.0 197.8C321.7 199.0 322.0 200.7 322.6 202.3C323.2 203.9 324.0 205.9 324.6 207.3C325.2 208.8 325.6 210.4 326.1 211.0C326.6 211.6 327.1 210.3 327.6 210.8C328.1 211.3 328.6 212.0 329.1 213.7C329.6 215.4 330.2 218.6 330.8 221.2C331.3 223.7 332.0 227.1 332.4 229.1C332.8 231.0 333.1 232.3 333.3 233.0" stroke="#e74f39" stroke-width="1.0"/>
<path d="M333.9 233.0C334.1 231.5 334.5 227.0 334.9 224.0C335.2 221.0 335.6 218.0 336.0 214.8C336.4 211.6 337.0 208.0 337.6 205.0C338.2 202.0 338.9 199.2 339.6 197.0C340.3 194.8 341.1 193.2 342.0 192.0C342.9 190.8 343.8 190.1 345.0 189.5C346.2 188.9 347.8 188.7 349.0 188.3C350.2 187.9 350.9 187.6 352.0 187.0C353.1 186.4 354.9 185.3 355.5 185.0" stroke="#e74f39" stroke-width="1.2"/>
<path d="M222.5 121.0C221.6 121.2 218.8 121.7 217.0 122.5C215.2 123.3 213.5 124.6 212.0 126.0C210.5 127.4 209.2 129.0 208.0 131.0C206.8 133.0 205.8 135.3 205.0 137.8C204.2 140.3 204.0 143.1 203.5 146.0C203.0 148.9 202.4 151.3 202.0 155.0C201.6 158.7 201.7 162.8 201.3 168.0C200.9 173.2 200.1 179.3 199.9 186.0C199.6 192.7 199.6 200.7 199.6 208.0C199.7 215.3 199.9 224.6 200.0 230.0C200.1 235.4 200.1 238.8 200.1 240.5" stroke="#e04337" stroke-width="1.2"/>
<path d="M241.0 118.5C241.7 118.4 243.3 117.6 245.0 118.0C246.7 118.4 249.0 119.5 251.0 121.0C253.0 122.5 255.0 124.8 257.0 127.0C259.0 129.2 261.0 131.8 263.0 134.5C265.0 137.2 267.0 140.4 269.0 143.0C271.0 145.6 273.2 148.2 275.0 150.0C276.8 151.8 278.3 153.4 280.0 154.0C281.7 154.6 283.3 153.9 285.0 153.5C286.7 153.1 288.3 152.6 290.0 151.5C291.7 150.4 293.3 148.6 295.0 147.0C296.7 145.4 298.3 143.8 300.0 142.0C301.7 140.2 303.5 137.7 305.0 136.0C306.5 134.3 307.7 133.0 309.0 132.0C310.3 131.0 311.7 129.6 313.0 130.0C314.3 130.4 315.6 133.0 317.0 134.5C318.4 136.0 319.6 137.2 321.3 139.0C323.0 140.8 325.3 143.3 327.3 145.0C329.3 146.7 331.5 147.5 333.3 149.0C335.1 150.5 337.0 152.0 338.3 154.0C339.6 156.0 340.6 158.5 341.3 161.0C342.0 163.5 342.2 166.0 342.3 169.0C342.4 172.0 342.1 176.0 341.8 179.0C341.5 182.0 341.1 184.5 340.6 187.0C340.1 189.5 339.5 191.7 339.0 194.0C338.5 196.3 338.1 198.7 337.7 201.0C337.3 203.3 337.0 205.2 336.6 208.0C336.2 210.8 335.7 214.8 335.3 218.0C334.9 221.2 334.6 224.5 334.3 227.0C334.0 229.5 333.8 232.0 333.7 233.0" stroke="#e04337" stroke-width="1.2"/>
<path d="M272.7 240.5C272.8 238.4 272.9 232.3 273.1 228.0C273.3 223.7 273.6 218.6 273.8 214.8C274.1 211.0 274.2 207.6 274.6 205.0C275.0 202.4 275.4 200.8 276.0 199.5C276.6 198.2 277.4 197.5 278.0 197.0C278.6 196.5 278.9 196.1 279.5 196.3C280.1 196.5 280.7 197.0 281.5 198.0C282.3 199.0 283.6 202.0 284.5 202.3C285.4 202.6 286.2 200.7 287.0 200.0C287.8 199.3 288.2 198.5 289.0 198.3C289.8 198.1 290.8 199.4 291.6 198.8C292.4 198.2 293.1 196.1 294.0 194.5C294.9 192.9 296.0 190.8 297.0 189.5C298.0 188.2 299.0 187.1 300.0 187.0C301.0 186.9 302.0 187.9 303.0 189.0C304.0 190.1 305.0 192.3 306.0 193.5C307.0 194.7 308.1 196.2 309.0 196.3C309.9 196.4 310.5 194.7 311.5 194.0C312.5 193.3 313.8 192.5 315.0 192.3C316.2 192.1 317.5 192.5 318.5 193.0C319.5 193.5 320.2 194.3 321.0 195.5C321.8 196.7 322.3 198.4 323.0 200.0C323.7 201.6 324.4 203.6 325.0 205.0C325.6 206.4 326.0 208.1 326.5 208.7C327.0 209.3 327.5 207.9 328.0 208.5C328.5 209.1 329.0 210.1 329.5 212.0C330.0 213.9 330.6 217.2 331.2 220.0C331.8 222.8 332.4 226.3 332.8 228.5C333.2 230.7 333.6 232.2 333.7 233.0" stroke="#e04337" stroke-width="1.2"/>
<path d="M157.9 240.5C158.1 238.7 158.5 233.3 158.8 229.6C159.2 225.8 159.6 221.0 160.0 218.0C160.4 215.0 161.0 213.1 161.5 211.5C162.0 209.9 162.4 208.7 162.9 208.7C163.4 208.7 163.8 209.9 164.3 211.5C164.8 213.1 165.4 215.0 165.9 218.0C166.4 221.0 167.0 225.8 167.5 229.6C168.0 233.3 168.6 238.7 168.8 240.5" stroke="#e32d24" stroke-width="1.0"/>
<path d="M158.4 240.5C158.6 238.7 159.0 233.3 159.3 229.6C159.7 225.8 160.1 220.8 160.5 218.0C160.9 215.2 161.3 213.9 161.8 212.5C162.2 211.1 162.5 209.6 162.9 209.6C163.3 209.6 163.6 211.1 164.1 212.5C164.5 213.9 164.9 215.2 165.4 218.0C165.9 220.8 166.5 225.8 167.0 229.6C167.5 233.3 168.1 238.7 168.3 240.5" stroke="#e32d24" stroke-width="1.0"/>
<path d="M158.9 240.5C159.1 238.7 159.5 233.3 159.8 229.6C160.2 225.8 160.6 220.7 161.0 218.0C161.4 215.3 161.7 214.8 162.0 213.5C162.3 212.2 162.6 210.5 162.9 210.5C163.2 210.5 163.5 212.2 163.8 213.5C164.1 214.8 164.5 215.3 164.9 218.0C165.3 220.7 166.0 225.8 166.5 229.6C167.0 233.3 167.6 238.7 167.8 240.5" stroke="#e32d24" stroke-width="1.0"/>
<path d="M159.7 240.5C159.9 239.8 160.4 237.1 161.0 236.2C161.6 235.3 162.4 234.9 163.1 235.0C163.8 235.1 164.6 235.8 165.2 236.7C165.8 237.6 166.2 239.9 166.4 240.5" stroke="#e32d24" stroke-width="1.0"/>
<path d="M221.0 145.2C220.0 145.7 216.8 146.7 215.0 148.0C213.2 149.3 211.4 151.2 210.0 153.0C208.6 154.8 207.5 156.5 206.5 159.0C205.5 161.5 204.7 164.3 204.0 167.8C203.3 171.3 202.9 175.0 202.5 180.0C202.1 185.0 202.0 192.0 201.7 198.0C201.4 204.0 201.0 208.9 200.8 216.0C200.6 223.1 200.5 236.4 200.4 240.5" stroke="#d73735" stroke-width="1.2"/>
<path d="M241.0 143.4C242.0 143.8 245.0 144.6 247.0 146.0C249.0 147.4 251.0 149.7 253.0 152.0C255.0 154.3 257.0 157.8 259.0 160.0C261.0 162.2 263.0 163.0 265.0 165.0C267.0 167.0 269.5 169.8 271.0 172.0C272.5 174.2 273.2 175.8 274.0 178.0C274.8 180.2 275.4 183.0 275.7 185.0C276.0 187.0 276.1 188.2 276.0 190.0C275.9 191.8 275.3 194.0 275.0 196.0C274.7 198.0 274.2 200.0 274.0 202.0C273.8 204.0 273.7 205.8 273.6 208.0C273.5 210.2 273.5 212.2 273.4 215.0C273.3 217.8 273.1 220.8 273.0 225.0C272.9 229.2 272.7 237.9 272.6 240.5" stroke="#d73735" stroke-width="1.2"/>
<path d="M221.5 164.2C220.8 164.4 218.4 164.9 217.0 165.5C215.6 166.1 214.3 166.6 213.0 167.8C211.7 169.1 210.2 171.0 209.0 173.0C207.8 175.0 206.5 177.5 205.5 180.0C204.5 182.5 203.6 185.0 203.0 188.0C202.4 191.0 202.2 193.3 201.9 198.0C201.6 202.7 201.3 208.9 201.1 216.0C200.9 223.1 200.9 236.4 200.8 240.5" stroke="#ce2c33" stroke-width="1.2"/>
<path d="M242.0 162.0C242.7 162.2 244.5 162.2 246.0 163.0C247.5 163.8 249.2 165.2 251.0 167.0C252.8 168.8 255.0 171.3 257.0 174.0C259.0 176.7 261.4 180.5 263.0 183.0C264.6 185.5 265.7 187.2 266.6 189.0C267.5 190.8 268.0 192.2 268.6 194.0C269.2 195.8 269.6 197.8 270.0 200.0C270.4 202.2 270.8 204.8 271.0 207.0C271.2 209.2 271.4 211.3 271.3 213.0C271.2 214.7 270.8 215.8 270.6 217.0C270.4 218.2 270.3 218.8 270.0 220.0C269.7 221.2 269.5 223.5 269.0 224.5C268.5 225.5 267.5 226.1 267.0 226.0C266.5 225.9 266.3 224.9 266.0 224.0C265.7 223.1 265.3 221.2 265.0 220.5C264.7 219.8 264.3 219.2 264.0 220.0C263.7 220.8 263.3 222.8 263.0 225.0C262.7 227.2 262.3 230.4 262.0 233.0C261.7 235.6 261.2 239.2 261.0 240.5" stroke="#ce2c33" stroke-width="1.2"/>
<path d="M223.5 183.8C222.6 184.1 219.8 184.6 218.0 185.5C216.2 186.4 214.5 187.6 213.0 189.0C211.5 190.4 210.0 192.5 209.0 194.0C208.0 195.5 207.8 196.0 207.0 198.0C206.2 200.0 205.2 203.0 204.5 206.0C203.8 209.0 202.9 211.3 202.5 216.0C202.1 220.7 202.2 229.9 202.0 234.0C201.8 238.1 201.4 239.4 201.3 240.5" stroke="#c42233" stroke-width="1.2"/>
<path d="M245.0 181.5C245.8 181.9 248.6 182.8 250.0 184.0C251.4 185.2 252.6 187.3 253.6 189.0C254.6 190.7 255.3 192.0 256.0 194.0C256.7 196.0 257.5 198.7 258.0 201.0C258.5 203.3 258.8 205.7 259.0 208.0C259.2 210.3 259.4 212.2 259.4 215.0C259.4 217.8 259.0 220.8 258.9 225.0C258.8 229.2 258.8 237.9 258.8 240.5" stroke="#c42233" stroke-width="1.2"/>
<path d="M203.0 240.5C203.3 239.6 204.3 237.1 205.0 235.0C205.7 232.9 206.5 230.1 207.0 228.0C207.5 225.9 208.0 223.4 208.2 222.5" stroke="#b91b3a" stroke-width="1.2"/>
<path d="M223.0 204.7C223.8 205.0 226.4 206.0 228.0 206.5C229.6 207.0 231.2 207.7 232.5 207.5C233.8 207.3 234.8 206.6 236.0 205.5C237.2 204.4 238.7 202.2 240.0 201.0C241.3 199.8 242.8 198.8 244.0 198.5C245.2 198.2 246.1 198.8 247.0 199.5C247.9 200.2 248.8 201.4 249.6 203.0C250.4 204.6 251.3 207.0 252.0 209.0C252.7 211.0 253.3 212.8 253.8 215.0C254.3 217.2 254.8 219.5 255.2 222.0C255.6 224.5 255.9 226.9 256.2 230.0C256.5 233.1 256.8 238.8 256.9 240.5" stroke="#b91b3a" stroke-width="1.2"/>
<path d="M212.0 240.5C212.5 240.2 213.8 239.1 215.0 238.5C216.2 237.9 217.7 237.2 219.0 237.2C220.3 237.2 222.0 237.9 223.0 238.5C224.0 239.1 224.7 240.2 225.0 240.5" stroke="#b91b3a" stroke-width="1.2"/>
<path d="M241.0 240.5C241.3 239.8 242.0 237.2 243.0 236.0C244.0 234.8 245.8 232.9 247.0 233.0C248.2 233.1 249.2 235.2 250.0 236.5C250.8 237.8 251.3 239.8 251.6 240.5" stroke="#b91b3a" stroke-width="1.2"/>
</g></g>
<g clip-path="url(#cpa)" font-family="'Liberation Sans', sans-serif" font-size="8.6" fill="#151515" stroke="#151515" stroke-width="0.12" text-anchor="middle">
<text transform="translate(162.7 36.6) rotate(25) scale(0.92 1)" y="3.0">-0.10</text>
<text transform="translate(157.5 61.6) rotate(20) scale(0.92 1)" y="3.0">-0.30</text>
<text transform="translate(154.5 92.8) rotate(12) scale(0.92 1)" y="3.0">-1.00</text>
<text transform="translate(152.3 121.4) rotate(7) scale(0.92 1)" y="3.0">-3.00</text>
<text transform="translate(146.3 149.7) rotate(2) scale(0.92 1)" y="3.0">-10.00</text>
<text transform="translate(145.3 173.2) rotate(4) scale(0.92 1)" y="3.0">-30.00</text>
<text transform="translate(115.5 206.0) rotate(-58) scale(0.92 1)" y="3.0">-100.00</text>
<text transform="translate(164.9 226.3) rotate(68) scale(0.92 1)" y="3.0">30.00</text>
<text transform="translate(189.2 225.2) rotate(54) scale(0.92 1)" y="3.0">-300.00</text>
<text transform="translate(231.0 40.6) rotate(-30) scale(0.92 1)" y="3.0">0.10</text>
<text transform="translate(227.7 67.6) rotate(-30) scale(0.92 1)" y="3.0">0.30</text>
<text transform="translate(230.6 94.8) rotate(-10) scale(0.92 1)" y="3.0">1.00</text>
<text transform="translate(232.0 119.6) rotate(-4) scale(0.92 1)" y="3.0">3.00</text>
<text transform="translate(231.4 143.6) rotate(0) scale(0.92 1)" y="3.0">10.00</text>
<text transform="translate(232.0 162.2) rotate(0) scale(0.92 1)" y="3.0">30.00</text>
<text transform="translate(235.0 181.9) rotate(0) scale(0.92 1)" y="3.0">100.00</text>
<text transform="translate(214.6 212.4) rotate(-52) scale(0.92 1)" y="3.0">300.00</text>
<text transform="translate(317.3 187.4) rotate(8) scale(0.92 1)" y="3.0">3.00</text>
<text transform="translate(308.0 225.3) rotate(55) scale(0.92 1)" y="3.0">-30.00</text>
<text transform="translate(348.3 216.6) rotate(35) scale(0.92 1)" y="3.0">-10.00</text>
</g>
<rect x="46.8" y="22.0" width="308.8" height="218.6" fill="none" stroke="#6a6a6a" stroke-width="1.2"/>
<path d="M46.8 240.6v3.0M85.3 240.6v3.0M123.9 240.6v3.0M162.5 240.6v3.0M201.1 240.6v3.0M239.7 240.6v3.0M278.3 240.6v3.0M316.9 240.6v3.0M355.5 240.6v3.0M46.8 46.6h-3.2M46.8 95.1h-3.2M46.8 143.5h-3.2M46.8 192.0h-3.2M46.8 240.4h-3.2M46.8 27.3h-1.9M46.8 32.0h-1.9M46.8 35.9h-1.9M46.8 39.1h-1.9M46.8 41.9h-1.9M46.8 44.4h-1.9M46.8 61.2h-1.9M46.8 69.7h-1.9M46.8 75.8h-1.9M46.8 80.5h-1.9M46.8 84.3h-1.9M46.8 87.5h-1.9M46.8 90.4h-1.9M46.8 92.8h-1.9M46.8 109.6h-1.9M46.8 118.2h-1.9M46.8 124.2h-1.9M46.8 128.9h-1.9M46.8 132.8h-1.9M46.8 136.0h-1.9M46.8 138.8h-1.9M46.8 141.3h-1.9M46.8 158.1h-1.9M46.8 166.6h-1.9M46.8 172.7h-1.9M46.8 177.4h-1.9M46.8 181.2h-1.9M46.8 184.4h-1.9M46.8 187.3h-1.9M46.8 189.7h-1.9M46.8 206.5h-1.9M46.8 215.1h-1.9M46.8 221.1h-1.9M46.8 225.8h-1.9M46.8 229.7h-1.9M46.8 232.9h-1.9M46.8 235.7h-1.9M46.8 238.2h-1.9" stroke="#333" stroke-width="0.85" fill="none"/>
<g font-family="'Liberation Serif', serif" font-size="9.3" fill="#222">
<text x="39.2" y="253.5" textLength="16" lengthAdjust="spacing">−80</text>
<text x="77.8" y="253.5" textLength="16" lengthAdjust="spacing">−60</text>
<text x="116.4" y="253.5" textLength="16" lengthAdjust="spacing">−40</text>
<text x="155.0" y="253.5" textLength="16" lengthAdjust="spacing">−20</text>
<text x="201.3" y="253.5" text-anchor="middle">0</text>
<text x="239.9" y="253.5" text-anchor="middle">20</text>
<text x="278.5" y="253.5" text-anchor="middle">40</text>
<text x="317.1" y="253.5" text-anchor="middle">60</text>
<text x="355.7" y="253.5" text-anchor="middle">80</text>
<text x="23.8" y="50.6">10</text>
<text x="33.2" y="47.2" font-size="7.2" textLength="7.4" lengthAdjust="spacing">−1</text>
<text x="29.1" y="99.1">10</text>
<text x="38.1" y="95.7" font-size="7.2">0</text>
<text x="29.1" y="147.5">10</text>
<text x="38.1" y="144.1" font-size="7.2">1</text>
<text x="29.1" y="196.0">10</text>
<text x="38.1" y="192.6" font-size="7.2">2</text>
<text x="29.1" y="244.4">10</text>
<text x="38.1" y="241.0" font-size="7.2">3</text>
</g>
<g font-family="'Liberation Sans', sans-serif" fill="#111">
<text x="131.6" y="16.9" font-size="11.2" textLength="22.3" lengthAdjust="spacingAndGlyphs">Mass</text>
<text x="157.4" y="16.9" font-size="11.2" textLength="66.5" lengthAdjust="spacingAndGlyphs">streamfunction</text>
<text x="229.2" y="16.9" font-size="11.2" textLength="42.1" lengthAdjust="spacingAndGlyphs">(g/cm/s)</text>
<text x="182.8" y="265.9" font-size="10.8" textLength="37.4" lengthAdjust="spacingAndGlyphs">Latitude</text>
<text transform="translate(17.7 167) rotate(-90)" font-size="11.2" textLength="37" lengthAdjust="spacingAndGlyphs">Pressure</text>
<text transform="translate(17.5 127.8) rotate(-90)" font-size="11.2" textLength="34.8" lengthAdjust="spacingAndGlyphs">(mbar)</text>
</g>
<clipPath id="cpb"><rect x="431.3" y="22.0" width="308.5" height="218.6"/></clipPath>
<rect x="566.3" y="22.0" width="38.6" height="218.6" fill="#e7e7e7"/>
<g clip-path="url(#cpb)"><g fill="none" stroke-linecap="butt" stroke-linejoin="round" transform="translate(0.3 0.4)">
<path d="M557.0 240.5C557.3 239.4 558.0 235.9 559.0 234.0C560.0 232.1 561.5 230.1 563.0 229.0C564.5 227.9 566.3 227.3 568.0 227.5C569.7 227.7 571.5 228.8 573.0 230.0C574.5 231.2 575.7 233.2 577.0 235.0C578.3 236.8 580.0 239.6 580.6 240.5" stroke="#2346a2" stroke-width="1.2"/>
<path d="M455.0 240.5C455.5 239.7 457.0 236.1 458.0 235.7C459.0 235.3 460.2 237.7 461.0 238.3C461.8 238.9 462.2 239.6 463.0 239.5C463.8 239.4 465.0 237.3 466.0 237.5C467.0 237.7 468.5 240.0 469.0 240.5" stroke="#2346a2" stroke-width="1.2"/>
<path d="M528.0 240.5C528.6 239.9 530.2 237.2 531.5 237.2C532.8 237.2 534.8 239.9 535.5 240.5" stroke="#2346a2" stroke-width="1.2"/>
<path d="M478.6 240.5C478.8 239.8 479.4 237.8 479.9 236.0C480.4 234.2 480.8 231.8 481.6 230.0C482.4 228.2 483.6 225.2 484.6 225.0C485.6 224.8 486.7 227.2 487.6 229.0C488.5 230.8 489.5 234.1 490.1 236.0C490.8 237.9 491.3 239.8 491.5 240.5" stroke="#2751a9" stroke-width="1.2"/>
<path d="M491.5 240.5C491.8 238.8 492.6 233.4 493.3 230.0C494.1 226.6 494.9 222.6 496.0 220.0C497.1 217.4 498.5 215.6 500.0 214.5C501.5 213.4 503.3 213.5 505.0 213.7C506.7 213.9 508.5 215.9 510.0 215.7C511.5 215.5 512.5 213.2 514.0 212.5C515.5 211.8 517.3 211.4 519.0 211.7C520.7 212.0 522.5 214.6 524.0 214.5C525.5 214.4 527.3 211.6 528.0 211.0" stroke="#2751a9" stroke-width="1.2"/>
<path d="M553.6 240.5C553.7 238.8 553.8 233.2 554.0 230.0C554.2 226.8 554.5 224.3 555.0 221.0C555.5 217.7 556.2 212.5 557.0 210.0C557.8 207.5 558.6 207.2 559.6 206.0C560.6 204.8 561.6 203.8 563.0 203.0C564.4 202.2 566.5 201.4 568.0 201.5C569.5 201.6 570.8 202.4 572.0 203.5C573.2 204.6 574.1 206.1 575.0 208.0C575.9 209.9 576.7 212.2 577.6 215.0C578.5 217.8 579.7 221.7 580.6 225.0C581.5 228.3 582.4 232.4 583.0 235.0C583.6 237.6 584.1 239.6 584.3 240.5" stroke="#2751a9" stroke-width="1.2"/>
<path d="M539.6 240.5L540.1 230.0L540.7 240.5" stroke="#2751a9" stroke-width="1.2"/>
<path d="M541.5 240.5C541.9 237.9 543.2 229.2 544.0 225.0C544.8 220.8 545.5 217.3 546.0 215.5C546.5 213.7 546.7 214.0 547.0 214.0C547.3 214.0 547.6 213.7 548.0 215.5C548.4 217.3 548.9 221.8 549.5 225.0C550.1 228.2 550.9 232.4 551.5 235.0C552.1 237.6 552.8 239.6 553.0 240.5" stroke="#2751a9" stroke-width="1.2"/>
<path d="M660.0 240.5C660.3 240.2 661.3 238.5 662.0 238.5C662.7 238.5 663.7 240.2 664.0 240.5" stroke="#2751a9" stroke-width="1.2"/>
<path d="M722.0 240.5C722.4 239.7 723.3 236.4 724.2 235.4C725.1 234.4 726.2 234.1 727.2 234.3C728.2 234.6 729.5 235.9 730.2 236.9C731.0 237.9 731.5 239.9 731.7 240.5" stroke="#2751a9" stroke-width="1.2"/>
<path d="M431.5 240.5C431.6 240.2 431.4 240.2 432.0 239.0C432.6 237.8 433.8 234.7 435.0 233.0C436.2 231.3 437.7 230.2 439.0 229.0C440.3 227.8 441.7 227.5 443.0 226.0C444.3 224.5 445.7 222.7 447.0 220.0C448.3 217.3 449.7 212.7 451.0 210.0C452.3 207.3 453.7 205.3 455.0 204.0C456.3 202.7 457.7 202.5 459.0 202.4C460.3 202.3 461.5 203.5 463.0 203.6C464.5 203.7 466.3 202.7 468.0 203.0C469.7 203.3 471.5 205.7 473.0 205.6C474.5 205.5 475.7 203.8 477.0 202.4C478.3 201.0 479.8 198.3 481.0 197.0C482.2 195.7 482.7 194.5 484.0 194.4C485.3 194.3 487.3 196.5 489.0 196.4C490.7 196.3 492.7 194.7 494.0 193.6C495.3 192.5 495.5 191.1 497.0 190.0C498.5 188.9 500.7 187.7 503.0 187.0C505.3 186.3 508.3 186.3 511.0 186.0C513.7 185.7 516.0 185.2 519.0 185.0C522.0 184.8 526.3 184.4 529.0 184.7C531.7 184.9 533.2 185.7 535.0 186.5C536.8 187.3 538.2 188.4 540.0 189.5C541.8 190.6 544.0 192.8 545.5 193.0C547.0 193.2 547.9 191.3 549.0 190.5C550.1 189.7 551.5 188.4 552.0 188.0" stroke="#2b5eae" stroke-width="1.2"/>
<path d="M572.6 181.0C573.1 181.7 574.7 183.3 575.6 185.0C576.5 186.7 577.3 188.8 578.0 191.0C578.7 193.2 579.4 195.2 580.0 198.0C580.6 200.8 581.3 203.3 581.6 208.0C581.9 212.7 581.8 220.6 581.9 226.0C582.0 231.4 582.1 238.1 582.1 240.5" stroke="#2b5eae" stroke-width="1.2"/>
<path d="M485.0 194.5C485.2 194.4 485.7 193.8 486.0 193.8C486.3 193.8 486.8 194.4 487.0 194.5" stroke="#2b5eae" stroke-width="1.2"/>
<path d="M647.0 240.5C647.2 239.8 647.6 237.0 648.0 236.0C648.4 235.0 649.1 234.2 649.6 234.5C650.1 234.8 650.6 237.0 651.0 238.0C651.4 239.0 651.8 240.1 652.0 240.5" stroke="#2b5eae" stroke-width="1.2"/>
<path d="M652.6 240.5L653.6 232.5L654.6 240.5" stroke="#2b5eae" stroke-width="1.2"/>
<path d="M657.0 240.5C657.1 239.2 657.4 235.6 657.6 233.0C657.8 230.4 657.8 227.3 658.0 225.0C658.2 222.7 658.5 220.8 659.0 219.0C659.5 217.2 660.3 215.5 661.0 214.5C661.7 213.5 662.3 212.9 663.0 213.0C663.7 213.1 664.2 214.0 665.0 215.0C665.8 216.0 667.0 218.1 668.0 219.0C669.0 219.9 669.8 220.2 671.0 220.5C672.2 220.8 673.9 220.8 675.0 220.6C676.1 220.4 676.6 220.3 677.5 219.5C678.4 218.7 679.4 216.8 680.5 215.8C681.6 214.8 683.0 213.4 684.3 213.5C685.5 213.6 686.6 214.6 688.0 216.5C689.4 218.4 691.1 224.1 692.6 224.8C694.1 225.6 695.6 222.0 697.0 221.0C698.4 220.0 700.2 219.2 700.9 218.8" stroke="#2b5eae" stroke-width="1.2"/>
<path d="M430.8 209.3C431.5 208.1 433.5 204.2 435.0 202.0C436.5 199.8 438.3 198.0 440.0 196.0C441.7 194.0 443.2 192.0 445.0 190.0C446.8 188.0 449.0 185.7 451.0 184.0C453.0 182.3 454.7 181.0 457.0 180.0C459.3 179.0 462.0 178.4 465.0 178.0C468.0 177.6 472.0 178.2 475.0 177.7C478.0 177.2 480.0 175.8 483.0 175.0C486.0 174.2 489.7 174.2 493.0 173.0C496.3 171.8 499.7 169.3 503.0 168.0C506.3 166.7 509.7 165.7 513.0 165.0C516.3 164.3 519.7 164.1 523.0 164.0C526.3 163.9 529.6 164.4 533.0 164.7C536.4 164.9 541.6 165.4 543.3 165.5" stroke="#306ab4" stroke-width="1.2"/>
<path d="M566.0 161.9C566.7 161.9 568.7 161.7 570.0 162.0C571.3 162.3 572.5 163.0 573.6 164.0C574.7 165.0 575.7 166.2 576.6 168.0C577.5 169.8 578.3 172.2 579.0 175.0C579.7 177.8 580.5 181.2 581.0 185.0C581.5 188.8 581.8 192.8 582.0 198.0C582.2 203.2 582.0 208.9 582.1 216.0C582.1 223.1 582.3 236.4 582.4 240.5" stroke="#306ab4" stroke-width="1.2"/>
<path d="M655.6 214.8C655.8 213.5 656.2 209.3 656.6 207.0C657.0 204.7 657.4 202.8 658.0 201.0C658.6 199.2 659.2 197.2 660.0 196.0C660.8 194.8 662.0 194.2 663.0 193.8C664.0 193.4 664.8 193.3 666.0 193.5C667.2 193.7 668.6 194.4 670.0 195.0C671.4 195.6 672.8 197.0 674.3 197.0C675.8 197.0 677.5 195.6 679.0 195.0C680.5 194.4 682.0 193.6 683.3 193.6C684.6 193.6 685.8 194.2 686.9 195.0C688.0 195.8 689.0 197.5 690.0 198.5C691.0 199.5 692.0 200.8 693.0 201.0C694.0 201.2 695.0 200.0 696.0 199.5C697.0 199.0 698.0 198.0 699.0 198.0C700.0 198.0 701.0 198.6 702.0 199.5C703.0 200.4 704.0 201.9 705.0 203.5C706.0 205.1 707.0 207.1 708.0 209.0C709.0 210.9 710.0 212.8 711.0 215.0C712.0 217.2 713.1 219.7 714.0 222.0C714.9 224.3 715.9 225.9 716.5 229.0C717.1 232.1 717.2 238.6 717.4 240.5" stroke="#306ab4" stroke-width="1.2"/>
<path d="M717.5 236.0C717.6 234.3 717.9 228.7 718.3 226.0C718.7 223.3 719.0 221.8 719.7 219.6C720.4 217.4 721.6 214.5 722.7 212.8C723.8 211.1 725.2 209.7 726.5 209.3C727.8 208.9 728.8 209.4 730.2 210.5C731.6 211.6 733.2 213.6 734.8 215.8C736.4 218.1 739.0 222.6 739.9 224.0" stroke="#306ab4" stroke-width="1.2"/>
<path d="M655.6 214.8C655.4 215.5 654.9 217.0 654.6 219.0C654.3 221.0 654.1 225.4 653.6 227.0C653.1 228.6 652.3 228.1 651.6 228.5C650.9 228.9 650.1 228.8 649.6 229.5C649.1 230.2 648.8 231.2 648.4 233.0C648.0 234.8 647.2 239.2 647.0 240.5" stroke="#306ab4" stroke-width="1.2"/>
<path d="M692.6 200.8C692.8 200.7 693.5 200.2 694.0 200.2C694.5 200.2 695.3 200.7 695.6 200.8" stroke="#306ab4" stroke-width="1.2"/>
<path d="M430.8 179.8C431.8 178.3 434.6 173.8 437.0 171.0C439.4 168.2 442.3 165.3 445.0 163.0C447.7 160.7 450.8 158.7 453.0 157.0C455.2 155.3 456.5 154.2 458.0 153.0C459.5 151.8 460.5 150.6 462.0 150.0C463.5 149.4 465.3 149.8 467.0 149.6C468.7 149.4 470.3 148.5 472.0 149.0C473.7 149.5 474.8 151.9 477.0 152.6C479.2 153.3 482.0 153.4 485.0 153.4C488.0 153.4 491.7 153.6 495.0 152.6C498.3 151.6 501.7 148.9 505.0 147.4C508.3 145.9 511.7 144.3 515.0 143.4C518.3 142.5 521.7 142.3 525.0 142.0C528.3 141.7 532.0 141.6 535.0 141.4C538.0 141.2 541.9 141.1 543.3 141.0" stroke="#3b77ba" stroke-width="1.2"/>
<path d="M562.5 139.8C563.2 139.9 565.5 140.0 567.0 140.5C568.5 141.0 570.3 141.8 571.6 143.0C572.9 144.2 573.9 145.7 575.0 147.5C576.1 149.3 577.2 151.8 578.0 154.0C578.8 156.2 579.4 158.7 580.0 161.0C580.6 163.3 581.1 164.6 581.6 167.8C582.1 171.0 582.7 175.0 582.8 180.0C582.9 185.0 582.2 191.3 582.2 198.0C582.1 204.7 582.3 212.9 582.4 220.0C582.5 227.1 582.6 237.1 582.6 240.5" stroke="#3b77ba" stroke-width="1.2"/>
<path d="M660.0 158.5C660.2 158.1 661.0 156.7 661.5 156.0C662.0 155.3 662.5 154.2 663.0 154.2C663.5 154.2 664.2 155.3 664.8 156.0C665.4 156.7 666.4 158.1 666.7 158.5" stroke="#3b77ba" stroke-width="1.2"/>
<path d="M652.6 214.8C652.8 212.8 653.4 206.6 654.0 203.0C654.6 199.4 655.6 196.0 656.0 193.0C656.4 190.0 656.0 186.6 656.3 184.8C656.6 183.0 657.0 182.9 657.6 182.0C658.2 181.1 659.2 180.2 660.0 179.5C660.8 178.8 662.2 178.2 662.6 178.0" stroke="#3b77ba" stroke-width="1.2"/>
<path d="M680.9 180.0C681.7 180.2 684.7 180.7 686.3 181.2C687.9 181.7 690.8 183.3 692.3 183.7C693.8 184.1 695.8 184.4 697.1 184.3C698.4 184.2 700.7 183.2 701.9 183.2C703.1 183.2 704.4 183.6 705.5 184.5C706.6 185.4 708.8 188.0 710.0 189.5C711.2 191.0 713.1 193.9 714.0 195.5C714.9 197.1 715.8 199.7 716.3 201.0C716.8 202.3 717.2 205.1 717.6 204.8C718.0 204.5 718.9 200.6 719.5 199.0C720.1 197.4 721.2 194.8 722.0 193.5C722.8 192.2 724.2 190.7 725.0 190.0C725.8 189.3 727.0 188.6 728.0 188.5C729.0 188.4 730.9 188.9 732.0 189.5C733.1 190.1 734.9 191.5 736.0 192.5C737.1 193.5 739.4 195.9 739.9 196.5" stroke="#3b77ba" stroke-width="1.2"/>
<path d="M652.6 213.0C652.3 214.3 651.3 218.3 650.6 221.0C649.9 223.7 649.2 226.7 648.6 229.0C648.0 231.3 647.5 233.1 647.0 235.0C646.5 236.9 645.8 239.6 645.6 240.5" stroke="#3b77ba" stroke-width="1.2"/>
<path d="M430.8 151.2C431.8 150.3 435.0 147.4 437.0 146.0C439.0 144.6 441.0 143.7 443.0 143.0C445.0 142.3 447.2 142.4 449.0 142.0C450.8 141.6 452.7 141.4 454.0 140.6C455.3 139.8 456.2 138.3 457.0 137.0C457.8 135.7 458.2 133.8 459.0 132.5C459.8 131.2 460.7 130.0 462.0 129.0C463.3 128.0 465.3 127.5 467.0 126.7C468.7 125.9 470.3 123.5 472.0 124.0C473.7 124.5 475.2 128.2 477.0 129.5C478.8 130.8 481.0 131.4 483.0 132.0C485.0 132.6 487.0 133.1 489.0 133.0C491.0 132.9 492.7 132.6 495.0 131.5C497.3 130.4 500.3 128.1 503.0 126.7C505.7 125.3 508.3 124.1 511.0 123.0C513.7 121.9 516.0 120.8 519.0 120.0C522.0 119.2 525.8 118.9 529.0 118.5C532.2 118.1 536.8 117.7 538.3 117.5" stroke="#4585c1" stroke-width="1.2"/>
<path d="M558.5 117.2C559.4 117.3 562.2 117.5 564.0 118.0C565.8 118.5 567.5 119.4 569.0 120.5C570.5 121.6 571.7 122.9 573.0 124.5C574.3 126.1 575.6 128.2 576.6 130.0C577.6 131.8 578.4 133.3 579.0 135.0C579.6 136.7 580.0 137.5 580.5 140.0C581.0 142.5 581.6 145.8 582.0 150.0C582.4 154.2 582.7 159.5 582.8 165.0C582.9 170.5 582.4 176.3 582.3 183.0C582.2 189.7 582.1 197.7 582.2 205.0C582.3 212.3 582.5 221.1 582.6 227.0C582.8 232.9 582.9 238.2 582.9 240.5" stroke="#4585c1" stroke-width="1.2"/>
<path d="M652.0 215.0C652.4 210.8 654.2 190.4 654.6 184.8C655.0 179.2 654.8 177.5 655.0 175.0C655.2 172.5 655.6 169.1 656.0 167.0C656.4 164.9 657.3 161.5 658.0 160.0C658.7 158.5 660.3 156.7 661.0 156.0C661.7 155.3 662.3 155.0 663.0 155.0C663.7 155.0 665.2 155.3 666.0 156.0C666.8 156.7 668.2 158.9 669.0 160.0C669.8 161.1 671.2 162.9 672.0 164.0C672.8 165.1 673.9 166.6 675.0 167.5C676.1 168.4 678.6 169.5 680.0 170.2C681.4 170.9 683.5 172.0 685.0 172.8C686.5 173.6 689.5 175.4 691.0 176.0C692.5 176.6 694.7 176.9 696.0 176.8C697.3 176.7 699.2 175.6 700.5 175.6C701.8 175.6 703.8 176.3 705.0 176.8C706.2 177.3 707.9 178.6 709.0 179.5C710.1 180.4 711.8 182.3 713.0 183.5C714.2 184.7 716.2 188.4 717.3 188.3C718.3 188.2 719.6 184.1 720.5 182.5C721.4 180.9 723.0 178.3 724.0 177.0C725.0 175.7 726.9 174.2 728.0 173.5C729.1 172.8 730.9 172.2 732.0 172.0C733.1 171.8 734.9 171.8 736.0 172.0C737.1 172.2 739.4 173.3 739.9 173.5" stroke="#4585c1" stroke-width="1.2"/>
<path d="M430.8 129.2C431.8 128.7 435.0 127.0 437.0 126.0C439.0 125.0 441.3 123.7 443.0 123.0C444.7 122.3 445.8 121.9 447.0 122.0C448.2 122.1 449.0 123.4 450.0 123.7C451.0 124.0 452.0 125.0 453.0 124.0C454.0 123.0 454.8 120.5 456.0 118.0C457.2 115.5 458.5 111.7 460.0 109.0C461.5 106.3 463.0 103.7 465.0 102.0C467.0 100.3 470.0 99.0 472.0 99.0C474.0 99.0 475.2 100.9 477.0 102.0C478.8 103.1 481.0 104.8 483.0 105.5C485.0 106.2 487.0 106.6 489.0 106.5C491.0 106.4 492.7 106.1 495.0 105.0C497.3 103.9 500.3 101.5 503.0 100.0C505.7 98.5 508.3 97.1 511.0 96.0C513.7 94.9 516.0 94.2 519.0 93.5C522.0 92.8 525.8 92.1 529.0 91.6C532.2 91.1 536.8 90.8 538.3 90.6" stroke="#5494ca" stroke-width="1.2"/>
<path d="M559.0 90.5C559.8 90.8 562.3 91.3 564.0 92.0C565.7 92.7 567.5 93.4 569.0 94.5C570.5 95.6 571.7 97.0 573.0 98.5C574.3 100.0 575.7 102.0 576.6 103.5C577.5 105.0 577.9 105.4 578.6 107.8C579.3 110.2 580.0 114.6 580.6 118.0C581.2 121.4 581.7 124.7 582.0 128.0C582.3 131.3 582.5 133.3 582.6 138.0C582.7 142.7 582.4 149.3 582.4 156.0C582.3 162.7 582.3 170.7 582.2 178.0C582.2 185.3 582.1 192.7 582.2 200.0C582.3 207.3 582.6 215.2 582.7 222.0C582.9 228.8 583.1 237.4 583.1 240.5" stroke="#5494ca" stroke-width="1.2"/>
<path d="M651.0 157.8C651.0 156.7 651.1 153.3 651.3 151.0C651.5 148.7 651.5 146.3 652.0 144.0C652.5 141.7 653.2 139.0 654.0 137.0C654.8 135.0 655.6 133.5 656.6 132.0C657.6 130.5 658.9 129.1 660.0 128.0C661.1 126.9 662.8 125.7 663.3 125.2" stroke="#5494ca" stroke-width="1.2"/>
<path d="M676.5 136.0C676.5 137.2 676.3 140.5 676.4 143.0C676.5 145.5 676.7 148.6 677.0 151.0C677.3 153.4 677.7 155.7 678.4 157.7C679.1 159.7 679.9 161.3 681.0 163.0C682.1 164.7 683.2 166.3 685.0 167.8C686.8 169.3 689.2 171.1 691.8 171.8C694.4 172.5 698.5 172.1 700.8 172.0C703.0 171.9 704.1 171.0 705.4 171.2C706.6 171.3 707.1 172.1 708.3 173.0C709.5 173.9 710.4 176.2 712.5 176.8C714.6 177.4 719.0 177.6 721.0 176.5C723.0 175.5 723.5 172.3 724.6 170.3C725.7 168.3 726.7 166.1 727.6 164.5C728.5 162.9 729.5 161.4 729.9 160.7C730.3 160.0 729.9 160.3 730.3 160.4C730.6 160.5 730.8 160.6 732.0 161.2C733.1 161.8 735.3 162.9 737.2 164.0C739.0 165.1 742.1 166.9 743.1 167.5" stroke="#5494ca" stroke-width="1.2"/>
<path d="M430.8 106.2C431.8 105.5 435.0 103.0 437.0 102.0C439.0 101.0 441.2 100.1 443.0 100.0C444.8 99.9 446.5 100.8 448.0 101.5C449.5 102.2 450.8 104.9 452.0 104.5C453.2 104.1 454.0 101.6 455.0 99.0C456.0 96.4 456.8 92.0 458.0 89.0C459.2 86.0 460.5 83.2 462.0 81.0C463.5 78.8 465.5 77.1 467.0 76.0C468.5 74.9 469.8 74.5 471.0 74.5C472.2 74.5 473.0 75.2 474.0 76.0C475.0 76.8 475.5 78.1 477.0 79.0C478.5 79.9 481.0 81.0 483.0 81.5C485.0 82.0 487.0 82.2 489.0 82.0C491.0 81.8 493.0 81.2 495.0 80.5C497.0 79.8 499.5 78.3 501.0 77.5C502.5 76.7 502.3 76.5 504.0 75.5C505.7 74.5 508.5 72.6 511.0 71.5C513.5 70.4 516.3 69.8 519.0 69.0C521.7 68.2 524.3 67.5 527.0 67.0C529.7 66.5 533.9 66.2 535.3 66.0" stroke="#64a2d0" stroke-width="1.2"/>
<path d="M555.0 66.0C555.8 66.2 558.3 66.4 560.0 67.0C561.7 67.6 563.3 68.5 565.0 69.5C566.7 70.5 568.5 71.6 570.0 73.0C571.5 74.4 572.8 76.2 574.0 78.0C575.2 79.8 576.1 81.5 577.0 84.0C577.9 86.5 578.9 89.8 579.6 93.0C580.3 96.2 580.6 99.8 581.0 103.0C581.4 106.2 581.6 107.5 581.8 112.0C582.0 116.5 582.1 123.3 582.1 130.0C582.2 136.7 582.2 144.7 582.3 152.0C582.3 159.3 582.3 166.7 582.3 174.0C582.4 181.3 582.3 188.7 582.4 196.0C582.5 203.3 582.7 210.6 582.8 218.0C583.0 225.4 583.3 236.8 583.4 240.5" stroke="#64a2d0" stroke-width="1.2"/>
<path d="M651.3 140.0C651.3 138.3 651.4 132.1 651.6 129.8C651.8 127.5 652.1 127.6 652.6 126.0C653.1 124.4 653.9 122.0 654.6 120.0C655.3 118.0 656.1 115.8 657.0 114.0C657.9 112.2 658.8 110.5 660.0 109.0C661.2 107.5 662.8 105.9 664.0 105.0C665.2 104.1 666.0 103.8 667.0 103.5C668.0 103.2 668.7 103.1 670.0 103.5C671.3 103.9 673.8 104.8 675.0 106.0C676.2 107.2 676.8 108.8 677.5 111.0C678.2 113.2 679.0 116.3 679.5 119.0C680.0 121.7 680.3 124.3 680.6 127.0C680.9 129.7 681.1 133.7 681.2 135.0" stroke="#64a2d0" stroke-width="1.2"/>
<path d="M430.8 78.2C431.8 77.8 435.0 76.7 437.0 76.0C439.0 75.3 441.2 74.1 443.0 74.0C444.8 73.9 446.7 74.9 448.0 75.5C449.3 76.1 450.1 77.6 451.0 77.5C451.9 77.4 452.7 76.4 453.5 75.0C454.3 73.6 455.1 71.2 456.0 69.0C456.9 66.8 457.8 64.2 459.0 62.0C460.2 59.8 461.7 57.2 463.0 55.5C464.3 53.8 465.7 52.6 467.0 51.5C468.3 50.4 469.3 49.2 471.0 49.0C472.7 48.8 475.0 49.9 477.0 50.5C479.0 51.1 481.0 52.2 483.0 52.6C485.0 53.0 487.0 53.1 489.0 53.0C491.0 52.9 492.3 53.0 495.0 52.0C497.7 51.0 501.7 48.3 505.0 47.0C508.3 45.7 511.7 44.9 515.0 44.0C518.3 43.1 521.5 42.2 525.0 41.6C528.5 41.0 534.2 40.6 536.0 40.4" stroke="#78b1d8" stroke-width="1.2"/>
<path d="M555.5 40.8C556.2 41.0 558.4 41.4 560.0 42.0C561.6 42.6 563.3 43.3 565.0 44.3C566.7 45.3 568.5 46.3 570.0 47.8C571.5 49.2 572.8 51.0 574.0 53.0C575.2 55.0 576.1 57.5 577.0 60.0C577.9 62.5 578.9 65.0 579.6 68.0C580.3 71.0 580.5 72.5 581.0 77.8C581.5 83.1 582.0 93.3 582.3 100.0C582.6 106.7 582.5 111.3 582.5 118.0C582.6 124.7 582.6 132.7 582.7 140.0C582.7 147.3 582.7 154.7 582.7 162.0C582.7 169.3 582.7 176.7 582.7 184.0C582.8 191.3 582.8 198.7 582.9 206.0C583.0 213.3 583.3 222.2 583.4 228.0C583.6 233.8 583.7 238.4 583.8 240.5" stroke="#78b1d8" stroke-width="1.2"/>
<path d="M652.3 118.0C652.4 116.7 652.7 112.2 653.0 110.0C653.3 107.8 653.5 106.5 654.0 104.8C654.5 103.1 655.4 102.2 656.2 99.7C657.0 97.2 657.9 92.4 659.0 89.8C660.1 87.2 662.2 85.0 662.8 84.0" stroke="#78b1d8" stroke-width="1.2"/>
<path d="M679.0 91.3C679.4 92.7 680.6 96.6 681.2 99.7C681.8 102.8 682.1 106.6 682.5 110.0C682.9 113.4 683.2 116.7 683.5 120.0C683.8 123.3 683.9 128.2 684.0 129.8" stroke="#78b1d8" stroke-width="1.2"/>
<path d="M681.2 135.0C681.2 136.3 681.1 140.3 681.0 143.0C680.9 145.7 680.7 148.6 680.8 151.0C680.9 153.4 681.1 155.6 681.7 157.7C682.3 159.8 683.3 162.1 684.4 163.8C685.5 165.5 686.6 166.5 688.4 167.8C690.2 169.1 693.0 170.9 695.0 171.3C697.0 171.7 698.8 170.5 700.5 170.1C702.3 169.8 704.1 169.1 705.6 169.3C707.1 169.5 708.1 170.4 709.4 171.4C710.7 172.4 711.8 174.5 713.5 175.1C715.2 175.7 718.1 176.0 719.7 175.1C721.2 174.2 721.8 171.4 722.9 169.4C723.9 167.5 725.0 165.3 725.9 163.6C726.8 161.9 727.8 160.2 728.5 159.3C729.2 158.5 729.3 158.5 730.0 158.5C730.7 158.5 731.3 158.7 732.7 159.4C734.0 160.0 736.2 161.2 738.1 162.3C740.0 163.3 743.1 165.2 744.1 165.8" stroke="#78b1d8" stroke-width="1.2"/>
<path d="M713.1 103.3C712.9 104.4 712.0 107.6 711.9 110.0C711.8 112.4 712.1 115.4 712.8 117.6C713.5 119.8 715.1 121.8 716.1 122.9C717.1 124.0 718.0 124.8 718.8 124.4C719.5 124.0 720.1 122.2 720.6 120.6C721.1 119.0 721.6 116.5 721.8 114.6C722.0 112.7 721.8 110.2 721.8 109.3" stroke="#78b1d8" stroke-width="1.2"/>
<path d="M430.8 54.2C431.8 53.7 435.0 51.8 437.0 51.0C439.0 50.2 441.2 49.5 443.0 49.5C444.8 49.5 446.7 50.6 448.0 51.0C449.3 51.4 450.0 52.5 451.0 52.0C452.0 51.5 452.8 50.2 454.0 48.0C455.2 45.8 456.7 41.5 458.0 39.0C459.3 36.5 460.5 34.8 462.0 33.0C463.5 31.2 465.3 29.0 467.0 28.0C468.7 27.0 470.3 26.9 472.0 27.0C473.7 27.1 475.2 28.0 477.0 28.6C478.8 29.2 481.0 30.2 483.0 30.6C485.0 31.0 487.0 31.3 489.0 31.0C491.0 30.7 492.7 29.8 495.0 29.0C497.3 28.2 500.3 26.9 503.0 26.0C505.7 25.1 508.7 24.1 511.0 23.4C513.3 22.6 516.0 21.8 517.0 21.5" stroke="#70abd5" stroke-width="1.2"/>
<path d="M565.5 21.5C566.2 22.2 568.6 24.2 570.0 26.0C571.4 27.8 572.7 29.7 574.0 32.0C575.3 34.3 576.7 37.4 577.6 40.0C578.5 42.6 579.0 44.5 579.6 47.8C580.2 51.1 581.0 54.6 581.5 60.0C582.0 65.4 582.3 73.7 582.5 80.0C582.7 86.3 582.6 91.3 582.7 98.0C582.7 104.7 582.7 112.7 582.7 120.0C582.8 127.3 582.8 134.7 582.8 142.0C582.8 149.3 582.8 156.7 582.8 164.0C582.8 171.3 582.8 178.7 582.8 186.0C582.8 193.3 582.9 200.7 583.0 208.0C583.1 215.3 583.4 224.6 583.5 230.0C583.7 235.4 583.8 238.8 583.8 240.5" stroke="#70abd5" stroke-width="1.2"/>
<path d="M654.3 103.0C654.4 101.8 654.6 98.5 654.9 96.0C655.1 93.5 655.3 91.0 655.8 88.0C656.2 85.0 657.0 80.7 657.6 78.0C658.2 75.3 658.9 73.8 659.6 72.0C660.3 70.2 661.1 68.5 662.0 67.0C662.9 65.5 664.0 64.0 665.0 63.0C666.0 62.0 667.2 61.4 668.3 61.2C669.4 61.0 670.4 61.2 671.5 62.0C672.6 62.8 674.1 64.5 675.0 66.0C675.9 67.5 676.4 69.3 677.0 71.0C677.6 72.7 677.9 73.7 678.4 76.0C678.9 78.3 679.5 81.8 680.0 85.0C680.5 88.2 681.0 91.3 681.4 95.0C681.8 98.7 682.2 102.8 682.6 107.0C683.0 111.2 683.4 117.8 683.6 120.0" stroke="#70abd5" stroke-width="1.2"/>
<path d="M712.0 112.0C711.9 110.0 711.6 103.3 711.6 100.0C711.6 96.7 712.0 94.4 712.2 92.0C712.4 89.6 712.6 87.8 713.0 85.4C713.4 83.0 714.1 79.5 714.6 77.5C715.1 75.5 715.8 74.2 716.3 73.4C716.8 72.6 717.1 72.5 717.6 72.5C718.1 72.5 718.5 72.6 719.0 73.4C719.5 74.2 720.2 75.9 720.8 77.5C721.4 79.1 722.1 82.1 722.4 83.0" stroke="#70abd5" stroke-width="1.2"/>
<path d="M430.8 28.8C431.8 28.3 435.0 26.6 437.0 26.0C439.0 25.4 441.3 25.0 443.0 25.0C444.7 25.0 445.8 25.7 447.0 26.0C448.2 26.3 449.0 27.2 450.0 27.0C451.0 26.8 452.1 25.5 453.0 24.6C453.9 23.7 455.1 22.0 455.5 21.5" stroke="#88bdde" stroke-width="1.2"/>
<path d="M579.0 21.5C579.2 23.4 579.7 28.6 580.0 33.0C580.3 37.4 580.6 40.0 581.0 47.8C581.4 55.6 582.2 71.6 582.5 80.0C582.8 88.4 582.6 91.3 582.7 98.0C582.7 104.7 582.8 112.7 582.8 120.0C582.8 127.3 582.8 134.7 582.8 142.0C582.8 149.3 582.8 156.7 582.8 164.0C582.8 171.3 582.8 178.7 582.8 186.0C582.9 193.3 582.9 200.7 583.0 208.0C583.2 215.3 583.5 224.6 583.6 230.0C583.7 235.4 583.8 238.8 583.9 240.5" stroke="#88bdde" stroke-width="1.2"/>
<path d="M580.6 21.5C580.8 25.9 581.6 34.7 582.0 47.8C582.4 60.9 582.7 88.3 582.9 100.0C583.0 111.7 582.9 111.3 582.9 118.0C582.9 124.7 582.9 132.7 582.9 140.0C582.9 147.3 582.9 154.7 582.9 162.0C582.9 169.3 582.8 176.7 582.9 184.0C582.9 191.3 582.9 198.7 583.0 206.0C583.1 213.3 583.4 222.2 583.5 228.0C583.7 233.8 583.8 238.4 583.9 240.5" stroke="#88bdde" stroke-width="1.2"/>
<path d="M657.9 78.0C658.0 75.3 658.2 68.0 658.6 62.0C659.0 56.0 659.4 46.5 660.0 41.8C660.6 37.1 661.2 36.4 662.0 34.0C662.8 31.6 663.9 29.2 664.9 27.6C665.9 26.0 666.9 25.1 667.7 24.4C668.6 23.7 669.2 23.5 670.0 23.6C670.8 23.7 671.7 24.0 672.5 24.8C673.3 25.6 674.2 26.9 674.9 28.4C675.6 29.9 676.3 31.8 676.9 34.0C677.5 36.2 678.0 37.5 678.5 41.8C679.0 46.1 679.2 53.6 679.6 60.0C680.0 66.4 680.2 73.3 680.6 80.0C681.0 86.7 681.8 96.7 682.0 100.0" stroke="#88bdde" stroke-width="1.2"/>
<path d="M656.3 82.0C656.4 80.8 656.8 77.6 657.0 74.8C657.2 72.0 657.3 68.1 657.6 65.0C657.9 61.9 658.4 58.5 659.0 56.0C659.6 53.5 660.2 51.8 661.0 50.0C661.8 48.2 663.1 46.3 664.0 45.0C664.9 43.7 665.7 42.9 666.5 42.3C667.3 41.7 668.0 41.3 668.9 41.3C669.8 41.3 671.0 41.4 672.0 42.5C673.0 43.6 674.2 45.9 675.0 48.0C675.8 50.1 676.4 52.2 677.0 55.0C677.6 57.8 678.1 61.7 678.5 65.0C678.9 68.3 679.0 70.6 679.4 74.8C679.8 79.0 680.3 85.0 680.8 90.0C681.3 95.0 682.1 102.5 682.4 105.0" stroke="#88bdde" stroke-width="1.2"/>
<path d="M677.7 21.5C677.8 22.9 678.2 26.6 678.5 30.0C678.8 33.4 679.0 36.8 679.3 41.8C679.5 46.8 679.7 53.6 680.0 60.0C680.3 66.4 680.6 73.3 681.0 80.0C681.4 86.7 682.2 93.3 682.6 100.0C683.0 106.7 683.3 116.7 683.4 120.0" stroke="#88bdde" stroke-width="1.2"/>
<path d="M711.6 74.8C711.7 69.3 711.7 48.6 712.0 41.8C712.3 35.0 712.8 36.1 713.3 34.0C713.8 31.9 714.6 30.3 715.3 29.2C716.0 28.1 717.0 27.5 717.7 27.5C718.4 27.5 719.1 28.1 719.7 29.2C720.3 30.3 720.8 31.9 721.3 34.0C721.8 36.1 722.1 35.0 722.5 41.8C722.9 48.6 723.2 69.3 723.4 74.8" stroke="#88bdde" stroke-width="1.2"/>
<path d="M711.4 100.0C711.4 97.5 711.6 89.2 711.6 85.0C711.6 80.8 711.5 79.0 711.6 74.8C711.7 70.6 711.7 63.6 712.0 60.0C712.3 56.4 712.9 54.8 713.6 53.0C714.3 51.2 715.3 49.8 716.0 49.0C716.7 48.2 717.0 47.9 717.6 48.0C718.2 48.1 718.9 48.3 719.6 49.5C720.3 50.7 721.0 52.8 721.6 55.0C722.2 57.2 722.7 59.7 723.0 63.0C723.3 66.3 723.5 70.3 723.6 74.8C723.7 79.3 723.7 85.8 723.7 90.0C723.7 94.2 723.5 98.3 723.5 100.0" stroke="#88bdde" stroke-width="1.2"/>
<path d="M684.0 129.8C683.8 131.0 683.2 133.9 683.0 137.0C682.8 140.1 682.6 145.2 682.6 148.4C682.6 151.6 682.6 153.8 682.9 156.0C683.2 158.2 683.3 159.5 684.3 161.5C685.3 163.5 687.2 166.5 688.9 168.0C690.5 169.4 692.4 170.2 694.3 170.3C696.2 170.5 698.4 169.4 700.3 169.0C702.2 168.7 704.2 167.9 705.8 168.1C707.4 168.3 708.7 169.4 710.1 170.4C711.5 171.4 712.7 173.3 714.2 174.0C715.6 174.6 717.5 174.9 718.8 174.1C720.0 173.2 720.6 170.7 721.6 168.8C722.6 166.9 723.6 164.6 724.6 162.9C725.5 161.1 726.5 159.3 727.3 158.3C728.2 157.3 728.8 156.9 729.8 156.9C730.8 156.8 731.8 157.2 733.3 157.8C734.8 158.4 737.0 159.7 739.0 160.7C740.9 161.8 744.0 163.6 745.0 164.2" stroke="#8fc4e4" stroke-width="1.0"/>
<path d="M660.4 21.5C660.3 22.9 659.9 26.6 659.6 30.0C659.3 33.4 659.1 34.3 658.8 41.8C658.5 49.3 658.4 64.3 657.6 74.8C656.8 85.3 655.0 95.8 654.0 105.0C653.0 114.2 652.1 121.2 651.6 130.0C651.1 138.8 650.4 148.8 650.9 158.0C651.4 167.2 654.3 175.5 654.6 185.0C654.9 194.5 654.1 205.8 652.6 215.0C651.1 224.2 646.8 236.2 645.6 240.5" stroke="#b5dbee" stroke-width="1.2"/>
<path d="M712.0 21.5C711.9 22.7 711.6 27.2 711.5 30.0C711.4 32.8 711.3 36.6 711.2 41.8C711.1 47.0 711.2 60.5 711.0 67.0C710.8 73.5 710.3 83.9 710.1 88.0C709.9 92.1 709.6 92.9 709.6 96.0C709.6 99.1 709.9 106.6 710.2 110.0C710.5 113.4 711.1 118.4 711.7 120.6C712.3 122.8 713.7 124.6 714.6 125.7C715.5 126.8 717.4 128.2 718.3 128.2C719.2 128.2 720.6 127.2 721.3 125.7C722.0 124.2 722.9 120.2 723.4 117.6C723.9 115.0 724.5 110.2 724.7 107.0C724.9 103.8 725.1 98.8 725.1 95.0C725.1 91.2 724.9 84.9 724.8 80.0C724.7 75.1 724.5 65.3 724.3 60.0C724.1 54.7 723.9 46.0 723.7 41.8C723.5 37.6 723.2 32.8 723.0 30.0C722.8 27.2 722.6 22.7 722.5 21.5" stroke="#b5dbee" stroke-width="1.2"/>
<path d="M658.2 21.5C658.2 24.9 658.2 32.9 658.0 41.8C657.8 50.7 657.5 66.1 657.0 75.0C656.5 83.9 655.3 91.7 655.0 95.0" stroke="#fde58f" stroke-width="0.9"/>
<path d="M679.7 21.5C679.8 24.9 679.8 35.4 680.0 41.8C680.2 48.2 680.5 53.6 680.8 60.0C681.1 66.4 681.3 73.3 681.6 80.0C681.9 86.7 682.3 96.7 682.4 100.0" stroke="#fde58f" stroke-width="0.9"/>
<path d="M710.2 21.5C710.2 24.9 710.1 33.7 710.1 41.8C710.1 49.9 710.3 61.6 710.2 70.0C710.1 78.4 709.8 88.3 709.7 92.0" stroke="#fde58f" stroke-width="0.9"/>
<path d="M725.0 21.5C725.0 24.9 725.0 33.7 725.0 41.8C725.0 49.9 725.1 61.6 725.2 70.0C725.3 78.4 725.4 88.3 725.4 92.0" stroke="#fde58f" stroke-width="0.9"/>
<path d="M656.4 21.5C656.5 24.9 656.8 32.9 656.8 41.8C656.8 50.7 656.9 64.3 656.3 74.8C655.7 85.3 654.0 95.8 653.1 105.0C652.2 114.2 651.4 125.8 651.1 130.0" stroke="#fdb36b" stroke-width="1.2"/>
<path d="M680.9 21.5C680.9 24.9 680.9 33.7 681.0 41.8C681.1 49.9 681.5 60.3 681.8 70.0C682.1 79.7 682.6 92.0 683.0 100.0C683.4 108.0 683.8 115.0 683.9 118.0" stroke="#fdb36b" stroke-width="1.2"/>
<path d="M708.6 21.5C708.7 24.9 709.0 35.4 709.1 41.8C709.2 48.2 709.4 53.6 709.4 60.0C709.4 66.4 709.4 74.0 709.3 80.0C709.2 86.0 708.6 90.8 708.7 95.8C708.8 100.7 709.4 105.4 709.9 109.7C710.5 114.0 711.1 118.7 712.0 121.4C712.9 124.1 714.1 124.7 715.3 126.0C716.5 127.2 718.5 128.4 719.1 128.9C719.8 129.4 718.7 129.8 719.1 129.0C719.6 128.3 721.0 126.3 721.8 124.3C722.6 122.4 723.4 120.1 724.0 117.2C724.6 114.3 725.2 110.4 725.5 106.7C725.8 103.0 725.8 99.5 725.9 95.0C726.0 90.5 726.1 85.8 726.2 80.0C726.3 74.2 726.4 69.8 726.4 60.0C726.4 50.2 726.5 27.9 726.5 21.5" stroke="#fdb36b" stroke-width="1.2"/>
<path d="M593.6 21.5C593.0 22.6 591.0 25.6 590.0 28.0C589.0 30.4 588.3 32.7 587.6 36.0C586.9 39.3 586.3 42.1 586.0 47.8C585.7 53.5 585.9 63.3 585.6 70.0C585.3 76.7 584.6 81.3 584.3 88.0C584.0 94.7 583.8 102.7 583.7 110.0C583.5 117.3 583.5 124.7 583.4 132.0C583.4 139.3 583.3 146.7 583.3 154.0C583.3 161.3 583.3 168.7 583.2 176.0C583.2 183.3 583.1 190.7 583.2 198.0C583.3 205.3 583.5 212.9 583.7 220.0C583.9 227.1 584.1 237.1 584.2 240.5" stroke="#f58548" stroke-width="1.2"/>
<path d="M647.6 21.5C647.9 22.5 649.0 25.2 649.6 27.6C650.2 30.0 650.8 32.7 651.2 35.6C651.6 38.5 651.6 41.8 652.0 45.0C652.4 48.2 653.2 50.0 653.6 55.0C654.0 60.0 654.4 66.5 654.2 74.8C654.0 83.1 653.0 95.8 652.4 105.0C651.8 114.2 651.2 121.2 650.8 130.0C650.4 138.8 649.7 148.8 650.2 158.0C650.7 167.2 653.5 175.5 653.6 185.0C653.7 194.5 652.2 205.8 650.6 215.0C649.0 224.2 645.1 236.2 644.0 240.5" stroke="#f58548" stroke-width="1.2"/>
<path d="M692.1 21.5C691.6 22.4 689.8 24.9 688.9 26.8C688.0 28.8 687.2 30.7 686.5 33.2C685.8 35.7 685.4 37.3 684.9 41.8C684.4 46.3 683.8 51.6 683.6 60.0C683.5 68.4 683.8 82.3 684.0 92.0C684.2 101.7 684.9 113.7 685.1 118.0" stroke="#f58548" stroke-width="1.2"/>
<path d="M701.2 21.5C701.6 22.6 702.9 26.0 703.6 28.4C704.3 30.8 705.1 33.4 705.6 35.6C706.1 37.8 706.5 38.6 706.8 41.8C707.1 45.0 707.2 50.8 707.3 55.0C707.4 59.2 707.5 62.0 707.5 67.0C707.5 72.0 707.4 80.2 707.4 85.0C707.4 89.8 707.1 91.8 707.2 95.9C707.4 100.1 708.0 105.6 708.5 109.9C709.1 114.2 709.7 119.0 710.7 121.9C711.6 124.7 713.0 125.5 714.3 126.9C715.6 128.3 717.6 129.7 718.6 130.2C719.5 130.7 719.4 130.8 720.1 129.9C720.8 129.0 722.1 126.9 723.0 124.8C723.8 122.8 724.6 120.5 725.3 117.5C725.9 114.5 726.4 110.7 726.8 106.9C727.1 103.2 727.1 98.7 727.2 95.0C727.3 91.3 727.4 88.4 727.6 85.0C727.8 81.6 727.9 78.5 728.3 74.8C728.7 71.1 729.2 66.1 729.8 63.0C730.4 59.9 731.1 58.2 732.0 56.0C732.9 53.8 733.7 52.1 735.0 50.0C736.3 47.9 739.1 44.6 739.9 43.5" stroke="#f58548" stroke-width="1.2"/>
<path d="M608.7 36.5C607.9 36.6 605.6 36.6 604.0 37.0C602.4 37.4 600.5 38.2 599.0 39.0C597.5 39.8 596.2 40.9 595.0 42.0C593.8 43.1 592.7 44.5 592.0 45.5C591.3 46.5 591.2 46.2 590.6 47.8C590.0 49.4 589.3 52.5 588.6 55.0C587.9 57.5 587.1 59.2 586.6 63.0C586.1 66.8 586.2 72.3 585.8 77.8C585.4 83.3 584.7 89.1 584.4 95.8C584.1 102.5 583.9 110.5 583.8 117.8C583.6 125.1 583.6 132.5 583.5 139.8C583.4 147.1 583.4 154.5 583.4 161.8C583.3 169.1 583.3 176.5 583.3 183.8C583.3 191.1 583.3 198.5 583.4 205.8C583.5 213.1 583.8 222.0 583.9 227.8C584.1 233.6 584.2 238.4 584.2 240.5" stroke="#f0703b" stroke-width="1.2"/>
<path d="M625.8 41.7C626.3 42.1 627.8 43.0 629.0 44.0C630.2 45.0 631.8 46.5 633.0 47.8C634.2 49.1 635.0 50.5 636.0 52.0C637.0 53.5 637.8 54.8 639.0 57.0C640.2 59.2 641.9 62.7 643.0 65.0C644.1 67.3 645.0 69.2 645.6 71.0C646.2 72.8 646.4 73.5 646.8 75.5C647.2 77.5 647.5 79.8 648.0 83.0C648.5 86.2 649.2 91.3 649.6 95.0C650.0 98.7 650.1 101.2 650.2 105.0C650.3 108.8 650.1 113.8 650.0 118.0C649.9 122.2 649.7 123.3 649.6 130.0C649.5 136.7 649.0 148.8 649.6 158.0C650.2 167.2 652.9 175.5 653.0 185.0C653.1 194.5 651.6 205.8 650.0 215.0C648.4 224.2 644.7 236.2 643.6 240.5" stroke="#f0703b" stroke-width="1.2"/>
<path d="M629.6 21.5C630.3 22.2 632.4 24.2 634.0 26.0C635.6 27.8 637.5 30.0 639.0 32.0C640.5 34.0 641.8 36.0 643.0 38.0C644.2 40.0 645.2 41.8 646.0 44.0C646.8 46.2 647.3 48.3 648.0 51.0C648.7 53.7 649.4 57.2 650.0 60.0C650.6 62.8 651.2 65.5 651.6 68.0C652.0 70.5 652.2 71.1 652.4 74.8C652.6 78.5 652.8 85.0 652.6 90.0C652.4 95.0 651.6 100.3 651.2 105.0C650.8 109.7 650.6 113.8 650.4 118.0C650.2 122.2 650.1 123.3 650.0 130.0C649.9 136.7 649.5 148.8 650.0 158.0C650.5 167.2 653.2 175.5 653.3 185.0C653.3 194.5 651.9 205.8 650.3 215.0C648.7 224.2 644.9 236.2 643.8 240.5" stroke="#f0703b" stroke-width="1.2"/>
<path d="M685.4 118.0C685.3 114.8 685.0 104.5 684.8 99.0C684.6 93.5 684.2 89.0 684.2 85.0C684.2 81.0 684.3 78.1 684.5 74.8C684.7 71.5 685.0 68.1 685.5 65.0C686.0 61.9 686.7 58.7 687.5 56.0C688.3 53.3 689.4 50.8 690.5 49.0C691.6 47.2 693.0 45.9 694.0 45.0C695.0 44.1 695.7 43.6 696.5 43.6C697.3 43.6 698.6 44.8 699.0 45.0" stroke="#f0703b" stroke-width="1.2"/>
<path d="M685.7 118.0C685.7 115.0 685.4 105.1 685.6 99.7C685.8 94.3 686.4 89.1 687.0 85.4C687.6 81.7 689.1 78.8 689.5 77.5" stroke="#f0703b" stroke-width="1.2"/>
<path d="M698.6 67.5C698.9 67.9 699.8 68.8 700.4 70.0C701.0 71.2 701.5 72.8 702.0 74.8C702.5 76.8 702.9 78.6 703.2 82.0C703.5 85.4 703.6 90.3 704.0 95.0C704.4 99.7 704.9 105.2 705.5 110.0C706.1 114.8 706.8 120.3 707.8 123.6C708.8 126.9 710.0 128.0 711.6 129.6C713.2 131.2 715.9 133.0 717.6 133.4C719.4 133.8 720.5 133.5 722.1 131.9C723.7 130.3 725.6 126.8 727.4 123.6C729.2 120.4 731.2 115.8 732.7 113.0C734.2 110.2 735.3 108.2 736.5 106.5C737.7 104.8 739.3 103.2 739.9 102.6" stroke="#f0703b" stroke-width="1.2"/>
<path d="M683.9 118.0C683.9 120.8 683.7 129.7 683.7 135.0C683.7 140.3 683.7 146.7 683.7 150.0C683.8 153.3 683.7 153.1 684.0 155.0C684.3 156.9 684.8 159.6 685.7 161.5C686.6 163.4 688.0 165.4 689.5 166.6C691.0 167.8 692.6 168.7 694.4 168.8C696.1 169.0 698.1 167.9 700.0 167.5C701.9 167.1 704.2 166.2 706.0 166.5C707.8 166.8 709.5 168.0 711.0 169.0C712.5 170.0 713.9 171.9 715.0 172.5C716.1 173.1 716.8 173.6 717.6 172.8C718.4 172.1 719.1 169.8 720.0 168.0C720.9 166.2 722.0 163.8 723.0 162.0C724.0 160.2 724.9 158.2 726.0 157.0C727.1 155.8 728.3 155.2 729.6 155.0C730.9 154.8 732.3 155.3 734.0 156.0C735.7 156.7 737.9 157.9 739.9 159.0C741.9 160.1 745.0 161.9 746.0 162.5" stroke="#f0703b" stroke-width="1.1"/>
<path d="M699.0 45.0C699.5 46.0 701.0 48.8 701.8 51.0C702.6 53.2 703.1 55.3 703.7 58.0C704.3 60.7 704.8 63.8 705.2 67.0C705.6 70.2 706.0 73.5 706.2 77.0C706.5 80.5 706.7 84.8 706.7 88.0C706.8 91.2 706.3 92.3 706.5 96.0C706.7 99.7 707.2 105.7 707.8 110.0C708.4 114.3 709.0 119.2 710.0 122.1C711.0 125.0 712.4 126.0 713.8 127.4C715.2 128.9 717.2 130.3 718.3 130.8C719.4 131.3 719.7 131.4 720.6 130.4C721.5 129.4 722.7 127.2 723.6 125.1C724.5 123.0 725.3 120.6 725.9 117.6C726.5 114.6 726.9 109.9 727.4 107.0C727.9 104.1 728.5 102.1 729.0 100.0C729.5 97.9 729.8 96.6 730.4 94.2C731.0 91.8 731.7 88.1 732.6 85.4C733.5 82.7 734.4 80.2 735.6 78.0C736.8 75.8 739.2 73.4 739.9 72.5" stroke="#f0703b" stroke-width="1.2"/>
<path d="M605.0 61.0C604.3 61.2 602.3 61.4 601.0 62.0C599.7 62.6 598.3 63.3 597.0 64.5C595.7 65.7 594.2 67.4 593.0 69.0C591.8 70.6 590.7 72.5 590.0 74.0C589.3 75.5 589.2 75.5 588.6 77.8C588.0 80.1 587.1 83.0 586.6 88.0C586.1 93.0 586.3 101.5 585.9 107.8C585.5 114.1 584.8 119.1 584.5 125.8C584.1 132.5 584.0 140.5 583.8 147.8C583.7 155.1 583.6 162.5 583.5 169.8C583.5 177.1 583.4 184.5 583.4 191.8C583.4 199.1 583.6 206.5 583.7 213.8C583.8 221.1 584.1 231.4 584.2 235.8C584.3 240.2 584.3 239.7 584.3 240.5" stroke="#f1693b" stroke-width="1.2"/>
<path d="M621.5 64.0C622.2 64.4 624.6 65.5 626.0 66.5C627.4 67.5 628.6 68.6 630.0 70.0C631.4 71.4 633.2 73.1 634.6 74.8C636.0 76.5 637.4 78.0 638.6 80.0C639.8 82.0 641.0 84.5 642.0 87.0C643.0 89.5 643.9 92.0 644.6 95.0C645.3 98.0 645.8 102.1 646.3 104.8C646.8 107.5 647.0 108.5 647.3 111.0C647.6 113.5 648.0 116.8 648.3 120.0C648.5 123.2 648.7 126.2 648.8 130.0C648.9 133.8 648.9 138.3 649.0 143.0C649.1 147.7 648.7 151.0 649.3 158.0C649.9 165.0 652.6 175.5 652.7 185.0C652.8 194.5 651.3 205.8 649.8 215.0C648.3 224.2 644.5 236.2 643.5 240.5" stroke="#f1693b" stroke-width="1.2"/>
<path d="M686.3 135.0C686.3 134.0 686.0 130.4 686.0 128.0C686.0 125.6 686.2 120.4 686.5 118.0C686.8 115.6 687.4 112.8 688.0 111.0C688.6 109.2 689.7 106.6 690.5 105.0C691.3 103.4 693.0 101.2 694.0 99.6C695.0 98.0 696.9 93.6 698.0 93.6C699.1 93.6 701.1 98.0 701.8 99.6C702.5 101.2 702.6 103.3 703.0 105.0C703.4 106.7 704.2 109.9 704.6 112.0C705.0 114.1 705.3 118.0 705.6 120.0C705.9 122.0 706.3 124.6 706.6 126.0C706.9 127.4 707.5 128.9 708.0 130.0C708.5 131.1 709.0 133.2 710.0 134.0C711.0 134.8 713.7 135.3 715.0 136.0C716.3 136.7 717.7 138.2 719.0 139.0C720.3 139.8 722.7 141.4 724.0 141.5C725.3 141.6 726.9 140.6 728.0 140.0C729.1 139.4 730.9 137.9 732.0 137.0C733.1 136.1 734.9 134.3 736.0 133.5C737.1 132.7 739.4 131.6 739.9 131.3" stroke="#f1693b" stroke-width="1.2"/>
<path d="M684.5 118.0C684.5 120.8 684.3 129.7 684.3 135.0C684.3 140.3 684.3 146.7 684.3 150.0C684.3 153.3 684.3 153.0 684.6 154.9C684.9 156.8 685.4 159.4 686.2 161.2C687.1 163.1 688.5 165.0 689.9 166.1C691.3 167.3 692.8 168.1 694.5 168.2C696.1 168.3 697.9 167.3 699.9 166.9C701.8 166.5 704.2 165.6 706.1 165.9C708.0 166.2 709.8 167.5 711.3 168.5C712.9 169.5 714.3 171.3 715.3 172.0C716.3 172.6 716.5 173.1 717.2 172.4C717.9 171.6 718.6 169.5 719.5 167.7C720.3 166.0 721.5 163.6 722.5 161.7C723.5 159.9 724.4 157.8 725.6 156.6C726.7 155.4 728.1 154.6 729.5 154.4C731.0 154.2 732.4 154.8 734.2 155.4C736.0 156.1 738.2 157.4 740.2 158.5C742.2 159.6 745.3 161.4 746.3 162.0" stroke="#f1693b" stroke-width="1.1"/>
<path d="M685.1 118.0C685.1 120.8 684.9 129.7 684.9 135.0C684.9 140.3 684.9 146.7 684.9 150.0C684.9 153.3 684.9 153.0 685.2 154.8C685.5 156.6 685.9 159.2 686.8 161.0C687.6 162.8 689.0 164.6 690.3 165.7C691.6 166.8 692.9 167.5 694.5 167.6C696.1 167.7 697.8 166.7 699.8 166.3C701.7 165.9 704.2 165.0 706.2 165.3C708.1 165.6 710.1 167.0 711.7 168.0C713.2 169.0 714.7 170.8 715.6 171.5C716.5 172.1 716.2 172.6 716.8 171.9C717.4 171.2 718.1 169.2 718.9 167.5C719.8 165.7 720.9 163.3 721.9 161.4C723.0 159.5 723.9 157.4 725.1 156.2C726.4 154.9 727.9 154.0 729.5 153.8C731.0 153.6 732.6 154.2 734.4 154.9C736.3 155.6 738.4 156.8 740.5 157.9C742.5 159.0 745.6 160.9 746.6 161.5" stroke="#f1693b" stroke-width="1.1"/>
<path d="M686.3 135.0C686.3 137.5 686.2 146.7 686.2 150.0C686.3 153.2 686.2 152.8 686.4 154.6C686.7 156.3 687.1 158.8 687.9 160.5C688.7 162.1 689.9 163.8 691.0 164.8C692.2 165.8 693.2 166.4 694.6 166.4C696.0 166.5 697.6 165.6 699.5 165.2C701.5 164.8 704.2 163.9 706.3 164.2C708.4 164.6 710.6 166.1 712.2 167.1C713.9 168.2 715.5 169.9 716.1 170.6C716.8 171.3 715.8 171.8 716.1 171.2C716.5 170.6 717.3 168.7 718.1 167.0C718.9 165.3 720.1 162.9 721.2 161.0C722.2 159.1 723.1 156.9 724.5 155.6C725.9 154.3 727.6 153.2 729.3 153.0C731.1 152.8 732.8 153.4 734.7 154.2C736.6 154.9 738.8 156.2 740.8 157.3C742.9 158.4 745.9 160.3 746.9 160.9" stroke="#f1693b" stroke-width="1.1"/>
<path d="M583.2 21.5C583.2 26.2 583.3 42.2 583.2 50.0C583.2 57.8 583.2 61.3 583.2 68.0C583.2 74.7 583.2 82.7 583.2 90.0C583.2 97.3 583.2 104.7 583.2 112.0C583.2 119.3 583.2 126.7 583.2 134.0C583.2 141.3 583.2 148.7 583.2 156.0C583.2 163.3 583.2 170.7 583.2 178.0C583.2 185.3 583.1 192.7 583.2 200.0C583.3 207.3 583.5 215.2 583.7 222.0C583.9 228.8 584.1 237.4 584.2 240.5" stroke="url(#gO)" stroke-width="1.0"/>
<path d="M583.6 21.5C583.6 26.2 583.5 42.2 583.5 50.0C583.5 57.8 583.4 61.3 583.3 68.0C583.3 74.7 583.3 82.7 583.3 90.0C583.2 97.3 583.2 104.7 583.2 112.0C583.2 119.3 583.2 126.7 583.2 134.0C583.2 141.3 583.2 148.7 583.2 156.0C583.2 163.3 583.2 170.7 583.2 178.0C583.2 185.3 583.1 192.7 583.2 200.0C583.3 207.3 583.6 215.2 583.7 222.0C583.9 228.8 584.1 237.4 584.2 240.5" stroke="url(#gO)" stroke-width="1.0"/>
<path d="M584.5 21.5C584.5 26.2 584.5 42.2 584.4 50.0C584.3 57.8 583.9 61.3 583.7 68.0C583.6 74.7 583.5 82.7 583.5 90.0C583.4 97.3 583.4 104.7 583.3 112.0C583.3 119.3 583.3 126.7 583.3 134.0C583.2 141.3 583.2 148.7 583.2 156.0C583.2 163.3 583.2 170.7 583.2 178.0C583.2 185.3 583.1 192.7 583.2 200.0C583.3 207.3 583.6 215.2 583.8 222.0C583.9 228.8 584.1 237.4 584.2 240.5" stroke="url(#gO)" stroke-width="1.0"/>
<path d="M585.3 21.5C585.3 26.2 585.4 42.2 585.2 50.0C585.0 57.8 584.4 61.3 584.1 68.0C583.9 74.7 583.7 82.7 583.6 90.0C583.5 97.3 583.5 104.7 583.4 112.0C583.4 119.3 583.3 126.7 583.3 134.0C583.3 141.3 583.3 148.7 583.3 156.0C583.3 163.3 583.3 170.7 583.2 178.0C583.2 185.3 583.1 192.7 583.2 200.0C583.3 207.3 583.6 215.2 583.8 222.0C583.9 228.8 584.2 237.4 584.2 240.5" stroke="url(#gO)" stroke-width="1.0"/>
<path d="M654.0 21.5C654.1 22.9 654.5 26.6 654.8 30.0C655.1 33.4 655.5 34.3 655.6 41.8C655.7 49.3 656.1 64.3 655.6 74.8C655.1 85.3 653.6 95.8 652.8 105.0C652.0 114.2 651.3 125.8 651.0 130.0" stroke="#fc9444" stroke-width="1.2"/>
<path d="M683.7 21.5C683.5 22.9 682.8 26.6 682.5 30.0C682.2 33.4 681.7 35.1 681.7 41.8C681.7 48.5 682.0 60.3 682.3 70.0C682.6 79.7 683.2 92.0 683.6 100.0C684.0 108.0 684.4 115.0 684.5 118.0" stroke="#fc9444" stroke-width="1.2"/>
<path d="M706.8 21.5C706.9 22.9 707.4 26.6 707.6 30.0C707.9 33.4 708.1 36.8 708.3 41.8C708.4 46.8 708.5 53.6 708.5 60.0C708.5 66.4 708.5 74.0 708.4 80.0C708.3 86.0 707.8 90.9 708.0 95.9C708.1 100.8 708.7 105.5 709.3 109.8C709.8 114.1 710.4 118.9 711.4 121.6C712.3 124.4 713.6 125.1 714.8 126.4C716.1 127.7 718.1 129.0 718.9 129.5C719.7 130.0 719.0 130.3 719.6 129.5C720.2 128.6 721.5 126.6 722.4 124.6C723.2 122.6 724.0 120.3 724.6 117.3C725.2 114.4 725.8 110.5 726.1 106.8C726.4 103.1 726.4 98.6 726.5 95.0C726.6 91.4 726.8 88.4 726.9 85.0C727.0 81.6 727.2 79.0 727.4 74.8C727.6 70.6 727.7 65.5 727.9 60.0C728.1 54.5 728.1 46.3 728.5 41.8C728.9 37.3 729.4 35.7 730.1 33.2C730.8 30.7 731.6 28.8 732.5 26.8C733.4 24.9 734.8 22.4 735.3 21.5" stroke="#fc9444" stroke-width="1.2"/>
<path d="M604.0 84.5C603.3 84.7 601.3 84.9 600.0 85.5C598.7 86.1 597.2 86.8 596.0 88.0C594.8 89.2 593.7 90.8 592.6 92.5C591.5 94.2 590.4 96.1 589.6 98.0C588.8 99.9 588.0 102.4 587.6 104.0C587.2 105.6 587.2 105.1 587.0 107.8C586.8 110.5 586.6 115.0 586.2 120.0C585.8 125.0 585.0 131.3 584.7 138.0C584.3 144.7 584.1 152.7 584.0 160.0C583.8 167.3 583.7 174.7 583.7 182.0C583.6 189.3 583.5 196.7 583.6 204.0C583.7 211.3 584.0 219.9 584.1 226.0C584.2 232.1 584.3 238.1 584.4 240.5" stroke="#ed5c3a" stroke-width="1.2"/>
<path d="M621.6 87.5C622.3 87.9 624.6 89.0 626.0 90.0C627.4 91.0 628.7 92.1 630.0 93.5C631.3 94.9 632.7 96.6 634.0 98.5C635.3 100.4 636.5 102.7 637.6 104.8C638.7 106.9 639.6 108.8 640.5 111.0C641.4 113.2 642.1 115.7 642.8 118.0C643.4 120.3 644.0 122.7 644.4 125.0C644.8 127.3 645.0 129.5 645.3 132.0C645.6 134.5 645.8 137.3 646.0 140.0C646.2 142.7 646.5 145.0 646.8 148.0C647.1 151.0 647.4 155.5 647.8 157.8C648.2 160.1 648.5 160.1 649.0 162.0C649.5 163.9 650.5 166.7 651.0 169.0C651.5 171.3 652.0 173.3 652.3 176.0C652.5 178.7 653.0 178.5 652.5 185.0C652.0 191.5 651.1 205.8 649.6 215.0C648.1 224.2 644.4 236.2 643.4 240.5" stroke="#ed5c3a" stroke-width="1.2"/>
<path d="M706.8 139.8C706.5 139.1 705.5 136.5 705.0 135.0C704.5 133.5 704.1 131.5 703.6 130.0C703.1 128.5 702.5 126.5 702.0 125.0C701.5 123.5 700.6 121.1 700.0 120.0C699.4 118.9 698.6 117.7 698.0 117.7C697.4 117.7 696.8 118.9 696.0 120.0C695.2 121.1 693.9 123.5 693.0 125.0C692.1 126.5 691.0 128.7 690.3 130.0C689.6 131.3 688.9 132.5 688.6 134.0C688.3 135.5 688.2 137.9 688.1 140.0C688.0 142.1 687.8 145.9 687.8 148.0C687.8 150.1 688.0 152.5 688.3 154.0C688.6 155.5 689.1 156.8 689.6 158.0C690.1 159.2 690.9 160.8 691.8 161.8C692.7 162.9 694.6 164.5 695.8 165.0C697.0 165.5 698.4 165.4 699.8 165.0C701.2 164.6 703.5 162.9 705.0 162.4C706.5 161.9 708.8 161.3 710.0 161.5C711.2 161.7 712.2 163.3 713.0 163.5C713.8 163.7 715.0 163.6 715.6 163.0C716.2 162.4 716.8 160.7 717.0 159.5C717.2 158.3 717.0 156.1 716.9 155.0C716.8 153.9 716.1 152.4 716.0 152.0" stroke="#ed5c3a" stroke-width="1.2"/>
<path d="M720.4 169.0C720.8 167.8 722.1 164.2 722.6 162.0C723.1 159.8 723.2 157.8 723.5 156.0C723.8 154.2 724.0 152.3 724.6 151.0C725.2 149.7 725.9 148.6 727.0 148.0C728.1 147.4 729.7 147.1 731.0 147.2C732.3 147.3 733.5 147.7 735.0 148.5C736.5 149.3 739.1 151.4 739.9 152.0" stroke="#ed5c3a" stroke-width="1.2"/>
<path d="M604.7 109.2C603.9 109.4 601.5 109.9 600.0 110.5C598.5 111.1 597.2 111.8 596.0 113.0C594.8 114.2 593.7 115.8 592.6 117.5C591.5 119.2 590.4 120.9 589.6 123.0C588.8 125.1 588.1 127.5 587.6 130.0C587.1 132.5 586.9 133.5 586.4 137.8C585.9 142.1 585.2 149.1 584.9 155.8C584.5 162.5 584.3 170.5 584.2 177.8C584.0 185.1 583.8 192.5 583.9 199.8C583.9 207.1 584.1 215.0 584.3 221.8C584.4 228.6 584.5 237.4 584.6 240.5" stroke="#e74f39" stroke-width="1.2"/>
<path d="M621.6 112.5C622.3 112.9 624.6 114.0 626.0 115.0C627.4 116.0 628.7 117.2 630.0 118.5C631.3 119.8 632.5 121.4 633.6 123.0C634.7 124.6 635.7 126.2 636.6 128.0C637.5 129.8 638.3 131.7 639.0 134.0C639.7 136.3 640.4 139.3 641.0 142.0C641.6 144.7 642.2 147.4 642.6 150.0C643.0 152.6 643.2 156.0 643.6 157.8C644.0 159.6 644.3 159.3 645.0 161.0C645.7 162.7 647.1 165.7 648.0 168.0C648.9 170.3 649.8 172.8 650.4 175.0C651.0 177.2 651.4 179.0 651.8 181.0C652.2 183.0 652.6 183.8 652.7 187.0C652.8 190.2 652.7 195.3 652.3 200.0C651.9 204.7 651.3 210.3 650.5 215.0C649.7 219.7 648.7 223.8 647.6 228.0C646.5 232.2 644.4 238.4 643.8 240.5" stroke="#e74f39" stroke-width="1.2"/>
<path d="M604.7 131.3C603.9 131.5 601.5 131.9 600.0 132.5C598.5 133.1 597.2 134.1 596.0 135.0C594.8 135.9 594.0 136.5 593.0 138.0C592.0 139.5 590.8 141.8 590.0 144.0C589.2 146.2 588.5 148.3 588.0 151.0C587.5 153.7 587.0 157.2 586.7 160.0C586.4 162.8 586.6 163.7 586.3 168.0C586.0 172.3 585.2 179.3 585.0 186.0C584.7 192.7 584.6 200.7 584.5 208.0C584.5 215.3 584.8 224.6 584.8 230.0C584.9 235.4 584.8 238.8 584.9 240.5" stroke="#e04337" stroke-width="1.2"/>
<path d="M621.6 134.2C622.3 134.6 624.6 135.5 626.0 136.5C627.4 137.5 628.7 138.7 630.0 140.0C631.3 141.3 632.5 142.8 633.6 144.5C634.7 146.2 635.8 148.2 636.6 150.0C637.4 151.8 638.1 153.7 638.6 155.0C639.1 156.3 639.1 156.6 639.6 157.8C640.1 159.0 640.9 160.0 641.6 162.0C642.3 164.0 643.2 167.5 644.0 170.0C644.8 172.5 645.8 174.8 646.6 177.0C647.4 179.2 648.4 180.8 649.0 183.0C649.6 185.2 650.0 187.2 650.3 190.0C650.6 192.8 650.8 195.8 650.6 200.0C650.5 204.2 650.0 210.3 649.4 215.0C648.8 219.7 647.8 223.8 646.8 228.0C645.8 232.2 643.8 238.4 643.2 240.5" stroke="#e04337" stroke-width="1.2"/>
<path d="M541.9 240.5C542.0 239.5 541.7 236.3 542.5 234.6C543.3 233.0 545.4 230.7 546.8 230.7C548.2 230.7 550.3 233.0 551.1 234.6C551.9 236.3 551.6 239.5 551.7 240.5" stroke="#e32d24" stroke-width="1.25"/>
<path d="M543.5 240.5C543.6 239.8 543.4 237.7 543.9 236.6C544.5 235.5 545.8 234.0 546.8 234.0C547.8 234.0 549.1 235.5 549.7 236.6C550.2 237.7 550.0 239.8 550.0 240.5" stroke="#e32d24" stroke-width="1.25"/>
<path d="M545.2 240.5C545.2 240.2 545.1 239.1 545.4 238.6C545.7 238.0 546.3 237.3 546.8 237.3C547.3 237.3 547.9 238.0 548.2 238.6C548.5 239.1 548.4 240.2 548.4 240.5" stroke="#e32d24" stroke-width="1.25"/>
<path d="M653.0 240.6L653.7 236.5L654.4 240.6" stroke="#e32d24" stroke-width="1.2"/>
<path d="M604.7 153.2C603.9 153.4 601.5 153.8 600.0 154.5C598.5 155.2 597.2 156.2 596.0 157.5C594.8 158.8 593.6 160.3 592.6 162.0C591.6 163.7 590.7 165.6 590.0 167.8C589.3 170.0 589.0 172.1 588.5 175.0C588.0 177.9 587.6 181.2 587.3 185.0C587.0 188.8 587.1 192.8 586.8 198.0C586.5 203.2 586.0 208.9 585.7 216.0C585.5 223.1 585.2 236.4 585.1 240.5" stroke="#d73735" stroke-width="1.2"/>
<path d="M625.6 156.5C626.3 157.0 628.6 158.2 630.0 159.5C631.4 160.8 632.7 162.2 634.0 164.0C635.3 165.8 636.5 168.0 637.6 170.0C638.7 172.0 639.7 174.2 640.6 176.0C641.5 177.8 642.3 179.5 643.0 181.0C643.7 182.5 644.1 183.0 644.6 185.0C645.1 187.0 645.5 190.0 646.0 193.0C646.5 196.0 647.2 199.4 647.6 203.0C648.0 206.6 648.7 210.6 648.5 214.8C648.3 219.0 647.3 223.7 646.4 228.0C645.5 232.3 643.6 238.4 643.0 240.5" stroke="#d73735" stroke-width="1.2"/>
<path d="M603.0 172.0C602.3 172.2 600.3 172.7 599.0 173.5C597.7 174.3 596.2 175.6 595.0 177.0C593.8 178.4 592.6 180.2 591.6 182.0C590.6 183.8 589.7 185.3 589.0 188.0C588.3 190.7 588.0 193.3 587.6 198.0C587.2 202.7 586.7 208.9 586.3 216.0C586.0 223.1 585.7 236.4 585.5 240.5" stroke="#ce2c33" stroke-width="1.2"/>
<path d="M623.6 173.0C624.3 173.2 626.6 173.8 628.0 174.5C629.4 175.2 630.7 175.9 632.0 177.0C633.3 178.1 634.8 179.7 636.0 181.0C637.2 182.3 638.2 183.3 639.0 185.0C639.8 186.7 640.3 188.7 641.0 191.0C641.7 193.3 642.4 196.3 643.0 199.0C643.6 201.7 644.2 204.4 644.6 207.0C645.0 209.6 645.6 211.3 645.6 214.8C645.6 218.3 645.2 223.7 644.8 228.0C644.3 232.3 643.2 238.4 642.9 240.5" stroke="#ce2c33" stroke-width="1.2"/>
<path d="M607.3 192.0C606.6 192.2 604.4 192.5 603.0 193.0C601.6 193.5 600.2 194.1 599.0 194.8C597.8 195.6 596.9 196.5 596.0 197.5C595.1 198.5 594.3 199.7 593.5 201.0C592.7 202.3 591.8 203.5 591.0 205.5C590.2 207.5 589.5 209.2 589.0 213.0C588.5 216.8 588.2 223.4 587.9 228.0C587.6 232.6 587.5 238.4 587.4 240.5" stroke="#c42233" stroke-width="1.2"/>
<path d="M631.0 193.5C631.5 193.9 633.1 194.9 634.0 196.0C634.9 197.1 635.8 198.5 636.6 200.0C637.4 201.5 638.0 203.3 638.6 205.0C639.2 206.7 639.6 208.4 640.0 210.0C640.4 211.6 640.7 212.6 641.0 214.8C641.3 217.0 641.4 220.0 641.6 223.0C641.8 226.0 641.8 230.1 642.0 233.0C642.2 235.9 642.5 239.2 642.6 240.5" stroke="#c42233" stroke-width="1.2"/>
<path d="M588.2 240.5C588.7 239.1 589.9 234.8 591.0 232.0C592.1 229.2 593.5 226.2 595.0 224.0C596.5 221.8 598.5 219.7 600.0 218.5C601.5 217.3 602.7 217.3 604.0 217.0C605.3 216.7 606.7 216.6 608.0 216.8C609.3 217.1 610.7 217.8 612.0 218.5C613.3 219.2 614.9 220.4 616.0 220.8C617.1 221.2 617.8 221.1 618.5 221.0C619.2 220.9 620.2 220.3 620.5 220.2" stroke="#b91b3a" stroke-width="1.2"/>
<path d="M637.0 224.0C637.2 224.8 637.7 227.2 638.0 229.0C638.3 230.8 638.7 233.1 639.0 235.0C639.3 236.9 639.6 239.6 639.7 240.5" stroke="#b91b3a" stroke-width="1.2"/>
<path d="M600.0 240.5C600.3 240.4 601.3 239.7 602.0 239.7C602.7 239.7 603.7 240.4 604.0 240.5" stroke="#b91b3a" stroke-width="1.2"/>
<path d="M630.0 240.5C630.2 240.4 631.0 239.7 631.5 239.7C632.0 239.7 632.8 240.4 633.0 240.5" stroke="#b91b3a" stroke-width="1.2"/>
</g></g>
<g clip-path="url(#cpb)" font-family="'Liberation Sans', sans-serif" font-size="8.6" fill="#151515" stroke="#151515" stroke-width="0.12" text-anchor="middle">
<text transform="translate(545.5 39.7) rotate(0) scale(0.92 1)" y="3.0">-0.03</text>
<text transform="translate(545.3 65.2) rotate(0) scale(0.92 1)" y="3.0">-0.10</text>
<text transform="translate(549.0 90.2) rotate(0) scale(0.92 1)" y="3.0">-0.30</text>
<text transform="translate(549.0 116.9) rotate(0) scale(0.92 1)" y="3.0">-1.00</text>
<text transform="translate(553.3 140.2) rotate(-2) scale(0.92 1)" y="3.0">-3.00</text>
<text transform="translate(555.0 163.7) rotate(-8) scale(0.92 1)" y="3.0">-10.00</text>
<text transform="translate(562.3 182.6) rotate(-24) scale(0.92 1)" y="3.0">-30.00</text>
<text transform="translate(536.9 217.6) rotate(62) scale(0.92 1)" y="3.0">-100.00</text>
<text transform="translate(552.6 237.3) rotate(50) scale(0.92 1)" y="3.0">100.00</text>
<text transform="translate(617.5 37.6) rotate(14) scale(0.92 1)" y="3.0">0.03</text>
<text transform="translate(613.3 61.6) rotate(8) scale(0.92 1)" y="3.0">0.10</text>
<text transform="translate(612.8 84.8) rotate(8) scale(0.92 1)" y="3.0">0.30</text>
<text transform="translate(613.3 110.2) rotate(8) scale(0.92 1)" y="3.0">1.00</text>
<text transform="translate(613.0 132.2) rotate(8) scale(0.92 1)" y="3.0">3.00</text>
<text transform="translate(615.3 154.0) rotate(8) scale(0.92 1)" y="3.0">10.00</text>
<text transform="translate(613.0 171.7) rotate(3) scale(0.92 1)" y="3.0">30.00</text>
<text transform="translate(619.0 192.6) rotate(1) scale(0.92 1)" y="3.0">100.00</text>
<text transform="translate(630.4 215.9) rotate(8) scale(0.92 1)" y="3.0">300.00</text>
<text transform="translate(672.4 82.6) rotate(30) scale(0.92 1)" y="3.0">-0.03</text>
<text transform="translate(673.0 127.8) rotate(50) scale(0.92 1)" y="3.0">-0.30</text>
<text transform="translate(671.3 179.3) rotate(9) scale(0.92 1)" y="3.0">-3.00</text>
<text transform="translate(707.3 228.4) rotate(75) scale(0.92 1)" y="3.0">-30.00</text>
<text transform="translate(693.3 70.5) rotate(-57) scale(0.92 1)" y="3.0">0.03</text>
<text transform="translate(712.0 147.2) rotate(47) scale(0.92 1)" y="3.0">0.30</text>
<text transform="translate(719.6 99.2) rotate(40) scale(0.92 1)" y="3.0">-0.03</text>
</g>
<rect x="431.3" y="22.0" width="308.5" height="218.6" fill="none" stroke="#6a6a6a" stroke-width="1.2"/>
<path d="M431.3 240.6v3.0M469.9 240.6v3.0M508.4 240.6v3.0M547.0 240.6v3.0M585.5 240.6v3.0M624.1 240.6v3.0M662.7 240.6v3.0M701.2 240.6v3.0M739.8 240.6v3.0M431.3 46.6h-3.2M431.3 95.1h-3.2M431.3 143.5h-3.2M431.3 192.0h-3.2M431.3 240.4h-3.2M431.3 27.3h-1.9M431.3 32.0h-1.9M431.3 35.9h-1.9M431.3 39.1h-1.9M431.3 41.9h-1.9M431.3 44.4h-1.9M431.3 61.2h-1.9M431.3 69.7h-1.9M431.3 75.8h-1.9M431.3 80.5h-1.9M431.3 84.3h-1.9M431.3 87.5h-1.9M431.3 90.4h-1.9M431.3 92.8h-1.9M431.3 109.6h-1.9M431.3 118.2h-1.9M431.3 124.2h-1.9M431.3 128.9h-1.9M431.3 132.8h-1.9M431.3 136.0h-1.9M431.3 138.8h-1.9M431.3 141.3h-1.9M431.3 158.1h-1.9M431.3 166.6h-1.9M431.3 172.7h-1.9M431.3 177.4h-1.9M431.3 181.2h-1.9M431.3 184.4h-1.9M431.3 187.3h-1.9M431.3 189.7h-1.9M431.3 206.5h-1.9M431.3 215.1h-1.9M431.3 221.1h-1.9M431.3 225.8h-1.9M431.3 229.7h-1.9M431.3 232.9h-1.9M431.3 235.7h-1.9M431.3 238.2h-1.9" stroke="#333" stroke-width="0.85" fill="none"/>
<g font-family="'Liberation Serif', serif" font-size="9.3" fill="#222">
<text x="423.8" y="253.5" textLength="16" lengthAdjust="spacing">−80</text>
<text x="462.4" y="253.5" textLength="16" lengthAdjust="spacing">−60</text>
<text x="500.9" y="253.5" textLength="16" lengthAdjust="spacing">−40</text>
<text x="539.5" y="253.5" textLength="16" lengthAdjust="spacing">−20</text>
<text x="585.8" y="253.5" text-anchor="middle">0</text>
<text x="624.3" y="253.5" text-anchor="middle">20</text>
<text x="662.9" y="253.5" text-anchor="middle">40</text>
<text x="701.4" y="253.5" text-anchor="middle">60</text>
<text x="740.0" y="253.5" text-anchor="middle">80</text>
<text x="408.1" y="50.6">10</text>
<text x="417.5" y="47.2" font-size="7.2" textLength="7.4" lengthAdjust="spacing">−1</text>
<text x="413.4" y="99.1">10</text>
<text x="422.4" y="95.7" font-size="7.2">0</text>
<text x="413.4" y="147.5">10</text>
<text x="422.4" y="144.1" font-size="7.2">1</text>
<text x="413.4" y="196.0">10</text>
<text x="422.4" y="192.6" font-size="7.2">2</text>
<text x="413.4" y="244.4">10</text>
<text x="422.4" y="241.0" font-size="7.2">3</text>
</g>
<g font-family="'Liberation Sans', sans-serif" fill="#111">
<text x="515.9" y="16.9" font-size="11.2" textLength="22.3" lengthAdjust="spacingAndGlyphs">Mass</text>
<text x="541.7" y="16.9" font-size="11.2" textLength="66.5" lengthAdjust="spacingAndGlyphs">streamfunction</text>
<text x="613.5" y="16.9" font-size="11.2" textLength="42.1" lengthAdjust="spacingAndGlyphs">(g/cm/s)</text>
<text x="567.1" y="265.9" font-size="10.8" textLength="37.4" lengthAdjust="spacingAndGlyphs">Latitude</text>
<text transform="translate(402.0 167) rotate(-90)" font-size="11.2" textLength="37" lengthAdjust="spacingAndGlyphs">Pressure</text>
<text transform="translate(401.8 127.8) rotate(-90)" font-size="11.2" textLength="34.8" lengthAdjust="spacingAndGlyphs">(mbar)</text>
</g>
<g font-family="'Liberation Serif', serif" font-size="11.8" fill="#1c1c1c" stroke="#1c1c1c" stroke-width="0.15">
<text x="177.1" y="295.7" textLength="15" lengthAdjust="spacingAndGlyphs">(a)</text>
<text x="561.3" y="295.7" textLength="15.8" lengthAdjust="spacingAndGlyphs">(b)</text>
</g>
</svg>
</body></html>
